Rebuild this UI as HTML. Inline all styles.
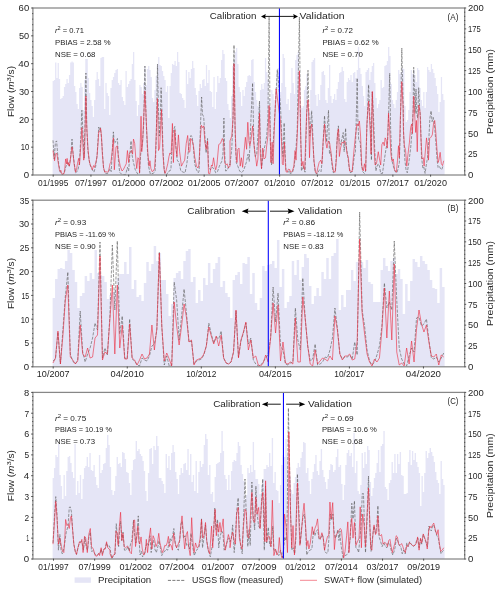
<!DOCTYPE html>
<html><head><meta charset="utf-8"><title>Flow calibration and validation</title>
<style>html,body{margin:0;padding:0;background:#fff;}svg{display:block;}text{font-family:"Liberation Sans",sans-serif;fill:#262626;}</style>
</head><body>
<svg width="500" height="590" viewBox="0 0 500 590">
<rect width="500" height="590" fill="#fff"/>
<g style="will-change:transform">
<path d="M52.6 175L52.6 81L53.86 81L53.86 80L55.11 80L55.11 62.4L56.37 62.4L56.37 78L57.63 78L57.63 63L58.88 63L58.88 79L60.14 79L60.14 99L61.39 99L61.39 98L62.65 98L62.65 96L63.91 96L63.91 87L65.16 87L65.16 84L66.42 84L66.42 79L67.68 79L67.68 83L68.93 83L68.93 75L70.19 75L70.19 62.4L71.45 62.4L71.45 61.6L72.7 61.6L72.7 62.4L73.96 62.4L73.96 86L75.22 86L75.22 92L76.47 92L76.47 104L77.73 104L77.73 109L78.98 109L78.98 88L80.24 88L80.24 83L81.5 83L81.5 87L82.75 87L82.75 110L84.01 110L84.01 80L85.27 80L85.27 59L86.52 59L86.52 59L87.78 59L87.78 78L89.04 78L89.04 93L90.29 93L90.29 100L91.55 100L91.55 106L92.81 106L92.81 117L94.06 117L94.06 100L95.32 100L95.32 80L96.57 80L96.57 72L97.83 72L97.83 79L99.09 79L99.09 86L100.34 86L100.34 58L101.6 58L101.6 57L102.86 57L102.86 57L104.11 57L104.11 109L105.37 109L105.37 83L106.63 83L106.63 93L107.88 93L107.88 96L109.14 96L109.14 115L110.39 115L110.39 88L111.65 88L111.65 80L112.91 80L112.91 77L114.16 77L114.16 73L115.42 73L115.42 70L116.68 70L116.68 69L117.93 69L117.93 83L119.19 83L119.19 85L120.45 85L120.45 80L121.7 80L121.7 97L122.96 97L122.96 101L124.22 101L124.22 105L125.47 105L125.47 71L126.73 71L126.73 87L127.98 87L127.98 84L129.24 84L129.24 81L130.5 81L130.5 79L131.75 79L131.75 64L133.01 64L133.01 52L134.27 52L134.27 80L135.52 80L135.52 101L136.78 101L136.78 116L138.04 116L138.04 105L139.29 105L139.29 85L140.55 85L140.55 87L141.81 87L141.81 94L143.06 94L143.06 83L144.32 83L144.32 66L145.57 66L145.57 85L146.83 85L146.83 69L148.09 69L148.09 66L149.34 66L149.34 70L150.6 70L150.6 77L151.86 77L151.86 98L153.11 98L153.11 102L154.37 102L154.37 90L155.63 90L155.63 76L156.88 76L156.88 64L158.14 64L158.14 57L159.39 57L159.39 65L160.65 65L160.65 66L161.91 66L161.91 71L163.16 71L163.16 76L164.42 76L164.42 80L165.68 80L165.68 92L166.93 92L166.93 86L168.19 86L168.19 118L169.45 118L169.45 86L170.7 86L170.7 73L171.96 73L171.96 64L173.22 64L173.22 65L174.47 65L174.47 61L175.73 61L175.73 66L176.98 66L176.98 52L178.24 52L178.24 62L179.5 62L179.5 93L180.75 93L180.75 94L182.01 94L182.01 98L183.27 98L183.27 100L184.52 100L184.52 108L185.78 108L185.78 70L187.04 70L187.04 84L188.29 84L188.29 72L189.55 72L189.55 78L190.81 78L190.81 69L192.06 69L192.06 61L193.32 61L193.32 68L194.57 68L194.57 88L195.83 88L195.83 95L197.09 95L197.09 106L198.34 106L198.34 91L199.6 91L199.6 84L200.86 84L200.86 88L202.11 88L202.11 80L203.37 80L203.37 79L204.63 79L204.63 86L205.88 86L205.88 65L207.14 65L207.14 83L208.39 83L208.39 70L209.65 70L209.65 91L210.91 91L210.91 92L212.16 92L212.16 107L213.42 107L213.42 77L214.68 77L214.68 109L215.93 109L215.93 92L217.19 92L217.19 76L218.45 76L218.45 83L219.7 83L219.7 78L220.96 78L220.96 60L222.22 60L222.22 50L223.47 50L223.47 54L224.73 54L224.73 78L225.98 78L225.98 81L227.24 81L227.24 104L228.5 104L228.5 110L229.75 110L229.75 118L231.01 118L231.01 96L232.27 96L232.27 66L233.52 66L233.52 60L234.78 60L234.78 52L236.04 52L236.04 48L237.29 48L237.29 64L238.55 64L238.55 87L239.81 87L239.81 92L241.06 92L241.06 106L242.32 106L242.32 90L243.57 90L243.57 96L244.83 96L244.83 87L246.09 87L246.09 82L247.34 82L247.34 76L248.6 76L248.6 75L249.86 75L249.86 76L251.11 76L251.11 60L252.37 60L252.37 59L253.63 59L253.63 82L254.88 82L254.88 92L256.14 92L256.14 100L257.39 100L257.39 106L258.65 106L258.65 101L259.91 101L259.91 90L261.16 90L261.16 84L262.42 84L262.42 89L263.68 89L263.68 83L264.93 83L264.93 58L266.19 58L266.19 72L267.45 72L267.45 80L268.7 80L268.7 98L269.96 98L269.96 106L271.22 106L271.22 90L272.47 90L272.47 94L273.73 94L273.73 100L274.98 100L274.98 88L276.24 88L276.24 70L277.5 70L277.5 68L278.75 68L278.75 72L280.01 72L280.01 92L281.27 92L281.27 83L282.52 83L282.52 54L283.78 54L283.78 58L285.04 58L285.04 87L286.29 87L286.29 104L287.55 104L287.55 99L288.81 99L288.81 110L290.06 110L290.06 93L291.32 93L291.32 68L292.57 68L292.57 83L293.83 83L293.83 94L295.09 94L295.09 60L296.34 60L296.34 55L297.6 55L297.6 52L298.86 52L298.86 73L300.11 73L300.11 106L301.37 106L301.37 108L302.63 108L302.63 106L303.88 106L303.88 90L305.14 90L305.14 86L306.39 86L306.39 74L307.65 74L307.65 100L308.91 100L308.91 111L310.16 111L310.16 90L311.42 90L311.42 62L312.68 62L312.68 60L313.93 60L313.93 58L315.19 58L315.19 95L316.45 95L316.45 106L317.7 106L317.7 94L318.96 94L318.96 100L320.22 100L320.22 85L321.47 85L321.47 72L322.73 72L322.73 71L323.98 71L323.98 75L325.24 75L325.24 100L326.5 100L326.5 103L327.75 103L327.75 88L329.01 88L329.01 65L330.27 65L330.27 96L331.52 96L331.52 103L332.78 103L332.78 99L334.04 99L334.04 94L335.29 94L335.29 100L336.55 100L336.55 89L337.81 89L337.81 82L339.06 82L339.06 73L340.32 73L340.32 72L341.57 72L341.57 67L342.83 67L342.83 71L344.09 71L344.09 99L345.34 99L345.34 102L346.6 102L346.6 82L347.86 82L347.86 78L349.11 78L349.11 80L350.37 80L350.37 75L351.63 75L351.63 82L352.88 82L352.88 73L354.14 73L354.14 72L355.39 72L355.39 78L356.65 78L356.65 70L357.91 70L357.91 47L359.16 47L359.16 68L360.42 68L360.42 74L361.68 74L361.68 86L362.93 86L362.93 96L364.19 96L364.19 106L365.45 106L365.45 72L366.7 72L366.7 70L367.96 70L367.96 68L369.22 68L369.22 80L370.47 80L370.47 72L371.73 72L371.73 66L372.98 66L372.98 63L374.24 63L374.24 83L375.5 83L375.5 98L376.75 98L376.75 108L378.01 108L378.01 104L379.27 104L379.27 100L380.52 100L380.52 80L381.78 80L381.78 88L383.04 88L383.04 87L384.29 87L384.29 66L385.55 66L385.55 65L386.81 65L386.81 61L388.06 61L388.06 47L389.32 47L389.32 56L390.57 56L390.57 84L391.83 84L391.83 100L393.09 100L393.09 104L394.34 104L394.34 108L395.6 108L395.6 100L396.86 100L396.86 92L398.11 92L398.11 70L399.37 70L399.37 74L400.63 74L400.63 72L401.88 72L401.88 68L403.14 68L403.14 69L404.39 69L404.39 106L405.65 106L405.65 122L406.91 122L406.91 120L408.16 120L408.16 110L409.42 110L409.42 92L410.68 92L410.68 70L411.93 70L411.93 74L413.19 74L413.19 70L414.45 70L414.45 75L415.7 75L415.7 82L416.96 82L416.96 68L418.22 68L418.22 70L419.47 70L419.47 88L420.73 88L420.73 100L421.98 100L421.98 106L423.24 106L423.24 92L424.5 92L424.5 108L425.75 108L425.75 92L427.01 92L427.01 67L428.27 67L428.27 70L429.52 70L429.52 72L430.78 72L430.78 64L432.04 64L432.04 69L433.29 69L433.29 73L434.55 73L434.55 78L435.81 78L435.81 86L437.06 86L437.06 94L438.32 94L438.32 112L439.57 112L439.57 102L440.83 102L440.83 77L442.09 77L442.09 94L443.34 94L443.34 100L444.6 100L444.6 175Z" fill="#e5e5f6" stroke="none"/>
<path d="M53.01 140.3L54.21 158.95L55.42 142.1L56.62 140.9L57.46 151.73L58.66 163.76L60.23 172.19L62.03 174.59L64.2 173.39L65.64 167.37L67.45 162.56L69.25 166.17L70.7 156.54L72.02 139.09L73.1 154.13L75.51 172.79L77.68 170.98L79.48 162.56L80.81 136.08L81.89 110.21L83.09 136.08L84.06 157.74L84.9 130.07L85.9 73L86.82 130.07L88.03 151.73L89.71 163.76L91.52 168.58L93.92 172.19L95.73 166.17L97.17 154.13L98.74 127.06L99.58 130.07L100.54 127.66L101.74 142.1L103.55 168.58L105.35 173.39L107.76 173.39L109.57 169.78L110 168.58L111.2 171.58L112.17 154.13L113.37 131.87L114.33 143.3L115.42 142.1L116.62 139.69L117.46 138.49L118.42 160.15L119.63 172.19L122.03 174.59L125.64 174.59L127.45 167.37L128.65 170.98L129.86 154.13L131.06 140.9L131.9 154.13L133.47 162.56L135.27 169.78L137.68 173.99L139.48 173.39L140.69 154.13L142.49 142.1L143.69 124.05L144.9 66.1L146.1 118.03L147.3 148.12L148.51 166.17L150.31 173.99L153.32 173.39L155.13 170.98L156.33 136.08L157.5 64.3L158.5 112.02L159.34 136.08L160.3 118.03L161.1 87.7L161.99 112.02L162.95 148.12L163.91 166.17L164.75 173.39L166.56 174.59L168.97 170.98L170 170.98L170.96 168.58L172.17 142.1L173.37 130.07L174.81 126.46L176.02 148.12L177.22 160.15L179.03 162.56L180.83 170.98L183.24 172.19L185.04 172.79L186.85 163.76L188.65 148.12L189.86 138.49L191.06 135.48L192.26 137.29L193.47 148.12L194.67 163.76L196.47 169.78L198.28 172.79L199.12 170.98L200.32 130.07L201.6 97L202.49 114.42L203.69 116.83L204.9 136.08L206.1 152.93L207.55 138.49L208.51 166.17L210.31 169.78L212.12 167.37L213.92 168.58L215.73 172.79L217.53 171.58L219.34 166.17L221.74 161.35L222.95 154.13L223.91 118.03L224.75 154.13L225.6 170.98L227.16 170.38L228.97 166.17L230.05 163.76L230 164.97L231.81 148.12L233.01 118.03L234 45L235.05 130.07L236.26 162.56L237.82 166.17L239.63 170.98L241.43 172.79L242.64 171.58L243.84 169.78L246.25 162.56L248.05 154.13L249.25 161.35L250.46 130.07L252.6 83L253.83 142.1L255.27 156.54L256.71 154.13L258.28 130.07L259.5 101L260.32 142.1L261.53 168.58L263.09 154.13L264.9 145.71L266.7 136.08L267.91 118.03L269.1 17L270.31 142.1L271.52 164.97L272.72 154.13L273.92 130.07L277.4 69.7L280.5 106L281.99 142.1L282.95 156.54L284.15 122.85L285.11 154.13L285.96 169.78L287.76 172.19L290.05 170.98L290 173.39L292.41 172.79L294.21 166.17L296.02 148.12L297.22 130.07L299.4 17L300.59 130.07L301.43 170.98L303.24 166.17L305.04 172.19L306.25 130.07L308 70.3L309.01 118.03L309.86 136.08L310.7 124.05L311.66 110.81L312.62 130.07L313.83 160.15L315.27 172.79L317.08 173.99L319.48 169.78L321.05 171.58L322.25 160.15L323.45 136.08L324.54 115.63L325.5 130.07L326.7 142.1L327.55 124.05L328.51 110.21L329.47 154.13L330.67 151.73L332.12 166.17L333.32 172.79L335.49 170.98L336.93 142.1L338.38 125.86L339.34 142.1L340.54 144.51L341.99 138.49L343.19 132.47L344.15 151.73L345.6 128.26L346.56 148.12L347.76 156.54L348.97 166.17L350.05 171.58L350 172.79L352.41 171.58L354.21 156.54L355.42 151.73L356.26 118.03L357.2 78.1L357.82 118.03L358.66 139.69L360.23 142.1L361.43 163.76L362.64 171.58L364.44 173.39L365.64 170.98L366.85 130.07L368.6 84.7L369.86 118.03L370.7 130.07L371.42 160.15L371.9 118.03L372.3 92L373.47 115.63L374.67 148.12L375.87 170.98L377.08 166.17L378.28 163.76L379.48 166.17L380.69 173.39L382.49 173.39L384.3 160.15L386.1 148.12L387.55 142.1L388.51 118.03L389.7 73.3L390.67 130.07L391.88 160.15L393.32 166.17L395.13 171.58L396.93 172.79L398.13 168.58L399.34 162.56L400.3 130.07L401.8 48L403.2 106L403.66 136.08L404.87 160.15L406.07 169.78L407.27 172.79L408.84 162.56L410.64 148.12L411.85 133.68L413.05 112.02L413.7 67.3L415.22 113.22L416 89L416.66 113.22L417.62 118.03L418.7 87.7L419.67 108.41L420.51 118.03L421.47 156.54L422.92 168.58L423.88 167.37L425.08 173.39L426.29 164.97L427.49 157.74L428.69 142.1L429.9 118.03L431.1 110.81L432.06 121.64L433.27 117.43L434.47 125.25L435.67 139.69L437.12 160.15L438.08 167.37L439.28 166.17L440.49 168.58L441.69 169.78L442.89 166.17" fill="none" stroke="#5a5a5a" stroke-width="0.7" stroke-linejoin="round" stroke-dasharray="3.1 1.33" opacity="0.88"/>
<path d="M53.01 150.52L54.57 160.75L55.78 153.53L56.86 153.53L58.18 162.56L59.39 169.78L60.23 171.58L60.83 170.38L62.03 174.35L63.84 173.99L64.68 169.78L65.64 158.95L66.61 163.76L67.09 158.35L68.05 164.97L68.65 162.56L69.25 166.17L69.86 163.76L71.06 154.13L72.02 146.91L72.86 151.73L74.07 163.76L75.51 172.19L76.47 169.78L77.44 163.76L78.64 158.35L79.48 164.97L81.05 142.1L81.89 127.66L82.73 142.1L83.69 160.15L84.42 156.54L85.14 130.07L85.9 96L86.7 124.05L87.91 148.12L89.11 160.15L90.31 164.97L91.52 167.37L92.36 169.78L93.56 165.57L94.52 167.37L95.73 162.56L96.93 157.74L98.13 142.1L98.74 131.87L99.58 131.87L100.54 128.26L101.5 136.08L102.35 154.13L103.55 167.37L104.75 172.19L105.96 171.58L107.16 172.19L108.36 171.58L109.57 166.17L110 163.76L110.96 161.96L112.17 151.73L113.37 137.89L114.33 169.78L116.02 146.91L117.22 145.71L118.42 156.54L120.23 166.17L122.03 170.98L123.24 169.78L125.04 166.17L126.25 163.76L127.45 150.52L128.65 162.56L129.25 154.13L130.46 151.73L131.66 150.52L132.62 154.13L133.47 139.09L134.67 143.3L135.87 158.95L136.71 168.58L137.92 157.74L138.88 158.95L139.6 172.79L140.32 142.1L141.05 116.23L141.77 151.73L142.73 140.9L143.69 118.03L144.9 90.8L145.86 112.02L146.7 130.07L147.91 154.13L149.11 166.17L149.95 160.75L150.91 168.58L152.12 171.58L153.32 170.98L154.52 168.58L155.49 154.13L156.33 130.07L157.4 98.6L157.89 118.03L158.5 150.52L159.58 148.12L160.54 130.07L161.5 109.61L162.11 130.07L162.95 154.13L164.15 169.78L165.11 173.39L165.96 170.98L167.76 163.76L168.97 156.54L170.05 152.93L170 154.13L171.2 152.93L172.41 123.45L173.37 162.56L174.81 130.07L175.78 145.71L176.98 156.54L178.42 134.88L179.63 151.73L181.43 166.17L183.24 162.56L184.68 160.15L186.25 143.3L187.69 135.48L188.89 152.33L189.86 151.73L190.7 138.49L192.26 140.9L193.47 145.71L194.67 156.54L196.47 166.17L197.92 167.97L198.88 164.97L200.08 142.1L201.29 125.25L202.49 127.66L203.69 125.86L204.9 142.1L206.1 149.32L207.55 140.9L208.51 173.39L209.71 173.99L211.52 164.97L212.36 166.17L213.56 157.74L214.77 166.17L215.73 169.78L216.93 164.97L218.74 144.51L220.54 143.3L222.35 138.49L223.55 140.9L224.75 162.56L225.96 164.97L227.16 163.76L228.36 167.97L230.05 166.17L230 140.9L231.81 136.08L233.01 118.03L234 63.7L235.05 124.05L236.02 154.13L236.98 162.56L237.82 149.32L239.03 148.12L240.23 166.17L241.43 157.74L242.64 167.37L243.84 154.13L245.4 137.29L246.61 149.32L247.81 122.25L249.01 142.1L249.86 145.71L251.06 139.69L252.62 125.86L253.47 138.49L254.67 151.73L255.87 158.95L256.71 166.17L257.92 158.95L259.48 113.22L260.32 154.13L261.53 168.58L262.73 148.12L263.94 158.95L265.5 157.74L266.7 145.71L267.91 136.08L269.1 105.5L270.07 130.07L270.91 162.56L272.12 142.1L273.08 163.76L274.28 130.07L276.2 89L277.6 100L280.54 121.64L281.5 142.1L282.35 163.76L283.19 164.97L284.39 142.1L285.35 163.76L285.96 171.58L287.16 172.19L288.36 169.18L290.05 169.78L290 170.98L291.2 172.19L292.41 170.98L293.85 166.17L295.05 150.52L296.02 160.15L296.98 142.1L298.18 112.02L299.4 70.9L300.83 142.1L301.79 166.17L303 161.35L303.84 168.58L304.68 169.78L305.64 142.1L306.61 113.22L308 99.8L308.65 113.22L309.49 157.74L310.46 130.07L311.66 124.05L312.86 142.1L314.07 161.35L315.51 172.19L316.71 173.39L317.92 167.37L319.12 162.56L320.69 160.15L321.89 163.76L323.09 142.1L324.54 124.05L325.74 142.1L326.94 148.12L328.27 140.9L329.71 143.3L330.91 151.73L332.12 162.56L333.56 171.58L335.13 172.19L336.33 160.15L337.53 132.47L338.5 128.86L339.34 156.54L340.54 148.12L341.99 142.1L343.55 143.3L344.75 140.9L345.96 145.71L347.16 154.13L348.36 157.74L349.57 170.98L350 170.98L352.17 171.58L353.61 154.13L355.42 136.08L356.98 124.05L358.18 125.86L359.39 121.04L360.59 136.08L361.79 166.17L363.24 170.98L364.44 163.76L365.64 170.98L366.85 124.05L368.6 101L369.86 124.05L370.46 136.08L371.06 154.13L371.66 118.03L372.3 91.4L373.1 118.03L374.07 148.12L375.03 164.97L376.47 163.76L378.28 151.73L379.48 158.95L380.69 164.97L381.89 144.51L383.09 142.1L384.3 145.71L385.14 137.89L386.1 139.69L387.3 148.12L388.51 113.22L389.71 130.07L390.91 154.13L392.12 161.35L393.32 158.95L394.52 169.78L396.33 172.19L397.53 160.15L398.5 145.71L399.34 157.74L400.3 118.03L401.8 81.7L403 106L403.42 130.07L404.39 145.71L405.59 150.52L406.79 166.17L408 154.13L409.44 142.1L410.64 127.66L411.61 124.05L412.45 133.68L413.29 108.41L413.8 96.2L414.86 118.03L415.7 132.47L416.42 120.44L417.26 151.73L418.1 118.03L418.8 105L420.03 112.02L420.87 136.08L422.08 158.95L423.28 157.74L424.12 166.17L425.08 154.13L426.53 137.89L427.49 145.71L428.45 160.15L429.66 138.49L430.86 137.29L432.3 134.88L433.51 124.05L434.71 120.44L435.67 130.07L436.88 148.12L438.08 162.56L438.92 160.15L440.13 152.33L441.33 163.76L442.53 165.57L443.74 160.75" fill="none" stroke="#eb283c" stroke-width="0.8" stroke-linejoin="round" opacity="0.75"/>
<line x1="279.45" y1="8" x2="279.45" y2="175" stroke="#0505ff" stroke-width="1.08"/>
<rect x="32.9" y="8" width="431.8" height="167" fill="none" stroke="#878787" stroke-width="1.25"/>
<line x1="31.1" y1="175" x2="33.2" y2="175" stroke="#333" stroke-width="0.8"/>
<text x="29.2" y="178.3" font-size="8.5" text-anchor="end" textLength="5.38" lengthAdjust="spacingAndGlyphs">0</text>
<line x1="32.15" y1="169.43" x2="33.2" y2="169.43" stroke="#333" stroke-width="0.8"/>
<line x1="32.15" y1="163.87" x2="33.2" y2="163.87" stroke="#333" stroke-width="0.8"/>
<line x1="32.15" y1="158.3" x2="33.2" y2="158.3" stroke="#333" stroke-width="0.8"/>
<line x1="32.15" y1="152.73" x2="33.2" y2="152.73" stroke="#333" stroke-width="0.8"/>
<line x1="31.1" y1="147.17" x2="33.2" y2="147.17" stroke="#333" stroke-width="0.8"/>
<text x="29.2" y="150.47" font-size="8.5" text-anchor="end" textLength="8.52" lengthAdjust="spacingAndGlyphs">10</text>
<line x1="32.15" y1="141.6" x2="33.2" y2="141.6" stroke="#333" stroke-width="0.8"/>
<line x1="32.15" y1="136.03" x2="33.2" y2="136.03" stroke="#333" stroke-width="0.8"/>
<line x1="32.15" y1="130.47" x2="33.2" y2="130.47" stroke="#333" stroke-width="0.8"/>
<line x1="32.15" y1="124.9" x2="33.2" y2="124.9" stroke="#333" stroke-width="0.8"/>
<line x1="31.1" y1="119.33" x2="33.2" y2="119.33" stroke="#333" stroke-width="0.8"/>
<text x="29.2" y="122.63" font-size="8.5" text-anchor="end" textLength="10.22" lengthAdjust="spacingAndGlyphs">20</text>
<line x1="32.15" y1="113.77" x2="33.2" y2="113.77" stroke="#333" stroke-width="0.8"/>
<line x1="32.15" y1="108.2" x2="33.2" y2="108.2" stroke="#333" stroke-width="0.8"/>
<line x1="32.15" y1="102.63" x2="33.2" y2="102.63" stroke="#333" stroke-width="0.8"/>
<line x1="32.15" y1="97.07" x2="33.2" y2="97.07" stroke="#333" stroke-width="0.8"/>
<line x1="31.1" y1="91.5" x2="33.2" y2="91.5" stroke="#333" stroke-width="0.8"/>
<text x="29.2" y="94.8" font-size="8.5" text-anchor="end" textLength="10.21" lengthAdjust="spacingAndGlyphs">30</text>
<line x1="32.15" y1="85.93" x2="33.2" y2="85.93" stroke="#333" stroke-width="0.8"/>
<line x1="32.15" y1="80.37" x2="33.2" y2="80.37" stroke="#333" stroke-width="0.8"/>
<line x1="32.15" y1="74.8" x2="33.2" y2="74.8" stroke="#333" stroke-width="0.8"/>
<line x1="32.15" y1="69.23" x2="33.2" y2="69.23" stroke="#333" stroke-width="0.8"/>
<line x1="31.1" y1="63.67" x2="33.2" y2="63.67" stroke="#333" stroke-width="0.8"/>
<text x="29.2" y="66.97" font-size="8.5" text-anchor="end" textLength="10.98" lengthAdjust="spacingAndGlyphs">40</text>
<line x1="32.15" y1="58.1" x2="33.2" y2="58.1" stroke="#333" stroke-width="0.8"/>
<line x1="32.15" y1="52.53" x2="33.2" y2="52.53" stroke="#333" stroke-width="0.8"/>
<line x1="32.15" y1="46.97" x2="33.2" y2="46.97" stroke="#333" stroke-width="0.8"/>
<line x1="32.15" y1="41.4" x2="33.2" y2="41.4" stroke="#333" stroke-width="0.8"/>
<line x1="31.1" y1="35.83" x2="33.2" y2="35.83" stroke="#333" stroke-width="0.8"/>
<text x="29.2" y="39.13" font-size="8.5" text-anchor="end" textLength="10.22" lengthAdjust="spacingAndGlyphs">50</text>
<line x1="32.15" y1="30.27" x2="33.2" y2="30.27" stroke="#333" stroke-width="0.8"/>
<line x1="32.15" y1="24.7" x2="33.2" y2="24.7" stroke="#333" stroke-width="0.8"/>
<line x1="32.15" y1="19.13" x2="33.2" y2="19.13" stroke="#333" stroke-width="0.8"/>
<line x1="32.15" y1="13.57" x2="33.2" y2="13.57" stroke="#333" stroke-width="0.8"/>
<line x1="31.1" y1="8" x2="33.2" y2="8" stroke="#333" stroke-width="0.8"/>
<text x="29.2" y="11.3" font-size="8.5" text-anchor="end" textLength="10.58" lengthAdjust="spacingAndGlyphs">60</text>
<line x1="464.4" y1="175" x2="466.2" y2="175" stroke="#333" stroke-width="0.8"/>
<text x="468.1" y="178.3" font-size="8.5" text-anchor="start" textLength="5.38" lengthAdjust="spacingAndGlyphs">0</text>
<line x1="464.2" y1="170.82" x2="465.25" y2="170.82" stroke="#333" stroke-width="0.8"/>
<line x1="464.2" y1="166.65" x2="465.25" y2="166.65" stroke="#333" stroke-width="0.8"/>
<line x1="464.2" y1="162.47" x2="465.25" y2="162.47" stroke="#333" stroke-width="0.8"/>
<line x1="464.2" y1="158.3" x2="465.25" y2="158.3" stroke="#333" stroke-width="0.8"/>
<line x1="464.4" y1="154.12" x2="466.2" y2="154.12" stroke="#333" stroke-width="0.8"/>
<text x="468.1" y="157.43" font-size="8.5" text-anchor="start" textLength="9.48" lengthAdjust="spacingAndGlyphs">25</text>
<line x1="464.2" y1="149.95" x2="465.25" y2="149.95" stroke="#333" stroke-width="0.8"/>
<line x1="464.2" y1="145.78" x2="465.25" y2="145.78" stroke="#333" stroke-width="0.8"/>
<line x1="464.2" y1="141.6" x2="465.25" y2="141.6" stroke="#333" stroke-width="0.8"/>
<line x1="464.2" y1="137.43" x2="465.25" y2="137.43" stroke="#333" stroke-width="0.8"/>
<line x1="464.4" y1="133.25" x2="466.2" y2="133.25" stroke="#333" stroke-width="0.8"/>
<text x="468.1" y="136.55" font-size="8.5" text-anchor="start" textLength="10.22" lengthAdjust="spacingAndGlyphs">50</text>
<line x1="464.2" y1="129.07" x2="465.25" y2="129.07" stroke="#333" stroke-width="0.8"/>
<line x1="464.2" y1="124.9" x2="465.25" y2="124.9" stroke="#333" stroke-width="0.8"/>
<line x1="464.2" y1="120.72" x2="465.25" y2="120.72" stroke="#333" stroke-width="0.8"/>
<line x1="464.2" y1="116.55" x2="465.25" y2="116.55" stroke="#333" stroke-width="0.8"/>
<line x1="464.4" y1="112.38" x2="466.2" y2="112.38" stroke="#333" stroke-width="0.8"/>
<text x="468.1" y="115.67" font-size="8.5" text-anchor="start" textLength="9.54" lengthAdjust="spacingAndGlyphs">75</text>
<line x1="464.2" y1="108.2" x2="465.25" y2="108.2" stroke="#333" stroke-width="0.8"/>
<line x1="464.2" y1="104.03" x2="465.25" y2="104.03" stroke="#333" stroke-width="0.8"/>
<line x1="464.2" y1="99.85" x2="465.25" y2="99.85" stroke="#333" stroke-width="0.8"/>
<line x1="464.2" y1="95.67" x2="465.25" y2="95.67" stroke="#333" stroke-width="0.8"/>
<line x1="464.4" y1="91.5" x2="466.2" y2="91.5" stroke="#333" stroke-width="0.8"/>
<text x="468.1" y="94.8" font-size="8.5" text-anchor="start" textLength="14.1" lengthAdjust="spacingAndGlyphs">100</text>
<line x1="464.2" y1="87.33" x2="465.25" y2="87.33" stroke="#333" stroke-width="0.8"/>
<line x1="464.2" y1="83.15" x2="465.25" y2="83.15" stroke="#333" stroke-width="0.8"/>
<line x1="464.2" y1="78.97" x2="465.25" y2="78.97" stroke="#333" stroke-width="0.8"/>
<line x1="464.2" y1="74.8" x2="465.25" y2="74.8" stroke="#333" stroke-width="0.8"/>
<line x1="464.4" y1="70.62" x2="466.2" y2="70.62" stroke="#333" stroke-width="0.8"/>
<text x="468.1" y="73.92" font-size="8.5" text-anchor="start" textLength="12.62" lengthAdjust="spacingAndGlyphs">125</text>
<line x1="464.2" y1="66.45" x2="465.25" y2="66.45" stroke="#333" stroke-width="0.8"/>
<line x1="464.2" y1="62.28" x2="465.25" y2="62.28" stroke="#333" stroke-width="0.8"/>
<line x1="464.2" y1="58.1" x2="465.25" y2="58.1" stroke="#333" stroke-width="0.8"/>
<line x1="464.2" y1="53.92" x2="465.25" y2="53.92" stroke="#333" stroke-width="0.8"/>
<line x1="464.4" y1="49.75" x2="466.2" y2="49.75" stroke="#333" stroke-width="0.8"/>
<text x="468.1" y="53.05" font-size="8.5" text-anchor="start" textLength="13.36" lengthAdjust="spacingAndGlyphs">150</text>
<line x1="464.2" y1="45.57" x2="465.25" y2="45.57" stroke="#333" stroke-width="0.8"/>
<line x1="464.2" y1="41.4" x2="465.25" y2="41.4" stroke="#333" stroke-width="0.8"/>
<line x1="464.2" y1="37.22" x2="465.25" y2="37.22" stroke="#333" stroke-width="0.8"/>
<line x1="464.2" y1="33.05" x2="465.25" y2="33.05" stroke="#333" stroke-width="0.8"/>
<line x1="464.4" y1="28.88" x2="466.2" y2="28.88" stroke="#333" stroke-width="0.8"/>
<text x="468.1" y="32.17" font-size="8.5" text-anchor="start" textLength="12.68" lengthAdjust="spacingAndGlyphs">175</text>
<line x1="464.2" y1="24.7" x2="465.25" y2="24.7" stroke="#333" stroke-width="0.8"/>
<line x1="464.2" y1="20.53" x2="465.25" y2="20.53" stroke="#333" stroke-width="0.8"/>
<line x1="464.2" y1="16.35" x2="465.25" y2="16.35" stroke="#333" stroke-width="0.8"/>
<line x1="464.2" y1="12.18" x2="465.25" y2="12.18" stroke="#333" stroke-width="0.8"/>
<line x1="464.4" y1="8" x2="466.2" y2="8" stroke="#333" stroke-width="0.8"/>
<text x="468.1" y="11.3" font-size="8.5" text-anchor="start" textLength="15.8" lengthAdjust="spacingAndGlyphs">200</text>
<line x1="53.2" y1="174.7" x2="53.2" y2="176.7" stroke="#333" stroke-width="0.8"/>
<text x="53.2" y="185.6" font-size="8.5" text-anchor="middle" textLength="30.2" lengthAdjust="spacingAndGlyphs">01/1995</text>
<line x1="90.94" y1="174.7" x2="90.94" y2="176.7" stroke="#333" stroke-width="0.8"/>
<text x="90.94" y="185.6" font-size="8.5" text-anchor="middle" textLength="32.02" lengthAdjust="spacingAndGlyphs">07/1997</text>
<line x1="128.68" y1="174.7" x2="128.68" y2="176.7" stroke="#333" stroke-width="0.8"/>
<text x="128.68" y="185.6" font-size="8.5" text-anchor="middle" textLength="33.4" lengthAdjust="spacingAndGlyphs">01/2000</text>
<line x1="166.42" y1="174.7" x2="166.42" y2="176.7" stroke="#333" stroke-width="0.8"/>
<text x="166.42" y="185.6" font-size="8.5" text-anchor="middle" textLength="34.42" lengthAdjust="spacingAndGlyphs">07/2002</text>
<line x1="204.16" y1="174.7" x2="204.16" y2="176.7" stroke="#333" stroke-width="0.8"/>
<text x="204.16" y="185.6" font-size="8.5" text-anchor="middle" textLength="32.66" lengthAdjust="spacingAndGlyphs">01/2005</text>
<line x1="241.9" y1="174.7" x2="241.9" y2="176.7" stroke="#333" stroke-width="0.8"/>
<text x="241.9" y="185.6" font-size="8.5" text-anchor="middle" textLength="34.48" lengthAdjust="spacingAndGlyphs">07/2007</text>
<line x1="279.64" y1="174.7" x2="279.64" y2="176.7" stroke="#333" stroke-width="0.8"/>
<text x="279.64" y="185.6" font-size="8.5" text-anchor="middle" textLength="30.96" lengthAdjust="spacingAndGlyphs">01/2010</text>
<line x1="317.38" y1="174.7" x2="317.38" y2="176.7" stroke="#333" stroke-width="0.8"/>
<text x="317.38" y="185.6" font-size="8.5" text-anchor="middle" textLength="31.98" lengthAdjust="spacingAndGlyphs">07/2012</text>
<line x1="355.12" y1="174.7" x2="355.12" y2="176.7" stroke="#333" stroke-width="0.8"/>
<text x="355.12" y="185.6" font-size="8.5" text-anchor="middle" textLength="30.22" lengthAdjust="spacingAndGlyphs">01/2015</text>
<line x1="392.86" y1="174.7" x2="392.86" y2="176.7" stroke="#333" stroke-width="0.8"/>
<text x="392.86" y="185.6" font-size="8.5" text-anchor="middle" textLength="32.04" lengthAdjust="spacingAndGlyphs">07/2017</text>
<line x1="430.6" y1="174.7" x2="430.6" y2="176.7" stroke="#333" stroke-width="0.8"/>
<text x="430.6" y="185.6" font-size="8.5" text-anchor="middle" textLength="32.66" lengthAdjust="spacingAndGlyphs">01/2020</text>
<g transform="translate(14.0 91.5) rotate(-90)"><text x="0" y="0" font-size="8.2" text-anchor="middle" textLength="51" lengthAdjust="spacingAndGlyphs">Flow (<tspan font-style="italic">m</tspan><tspan font-size="6.2" dy="-3.1">3</tspan><tspan dy="3.1">/s)</tspan></text></g>
<g transform="translate(492.6 91.5) rotate(-90)"><text x="0" y="0" font-size="8.4" text-anchor="middle" textLength="84.8" lengthAdjust="spacingAndGlyphs">Precipitation (mm)</text></g>
<text x="209.8" y="19.4" font-size="8.6" text-anchor="start" textLength="46.6" lengthAdjust="spacingAndGlyphs">Calibration</text>
<text x="299.6" y="19.4" font-size="8.6" text-anchor="start" textLength="45" lengthAdjust="spacingAndGlyphs">Validation</text>
<text x="55" y="32.95" font-size="8" text-anchor="start" textLength="29" lengthAdjust="spacingAndGlyphs"><tspan font-style="italic">r</tspan><tspan font-size="5.9" dy="-3.1">2</tspan><tspan dy="3.1"> = 0.71</tspan></text>
<text x="55" y="44.75" font-size="8" text-anchor="start" textLength="55.6" lengthAdjust="spacingAndGlyphs">PBIAS = 2.58 %</text>
<text x="55" y="56.75" font-size="8" text-anchor="start" textLength="40.4" lengthAdjust="spacingAndGlyphs">NSE = 0.68</text>
<text x="322.4" y="32.95" font-size="8" text-anchor="start" textLength="30.6" lengthAdjust="spacingAndGlyphs"><tspan font-style="italic">r</tspan><tspan font-size="5.9" dy="-3.1">2</tspan><tspan dy="3.1"> = 0.72</tspan></text>
<text x="322.4" y="44.75" font-size="8" text-anchor="start" textLength="56.2" lengthAdjust="spacingAndGlyphs">PBIAS = 0.62 %</text>
<text x="322.4" y="56.75" font-size="8" text-anchor="start" textLength="40.6" lengthAdjust="spacingAndGlyphs">NSE = 0.70</text>
<text x="447.6" y="19.6" font-size="8.7" text-anchor="start" textLength="10.8" lengthAdjust="spacingAndGlyphs">(A)</text>
<line x1="264.36" y1="16.4" x2="279.5" y2="16.4" stroke="#000" stroke-width="0.9"/>
<path d="M261 16.4L265.8 13.9L265.08 16.4L265.8 18.9Z" fill="#000"/>
<line x1="294.64" y1="16.4" x2="279.5" y2="16.4" stroke="#000" stroke-width="0.9"/>
<path d="M298 16.4L293.2 13.9L293.92 16.4L293.2 18.9Z" fill="#000"/>
<path d="M52.6 366.8L52.6 298L55.07 298L55.07 279L57.53 279L57.53 269L60 269L60 268L62.46 268L62.46 269L64.93 269L64.93 261L67.39 261L67.39 250L69.86 250L69.86 253L72.32 253L72.32 270L74.79 270L74.79 282L77.25 282L77.25 308L79.72 308L79.72 296L82.18 296L82.18 293L84.65 293L84.65 276L87.12 276L87.12 281L89.58 281L89.58 273L92.05 273L92.05 279L94.51 279L94.51 250L96.98 250L96.98 273L99.44 273L99.44 275L101.91 275L101.91 276L104.37 276L104.37 282L106.84 282L106.84 299L109.3 299L109.3 295L111.77 295L111.77 292L114.24 292L114.24 289L116.7 289L116.7 278L119.17 278L119.17 274L121.63 274L121.63 274L124.1 274L124.1 262L126.56 262L126.56 274L129.03 274L129.03 247L131.49 247L131.49 289L133.96 289L133.96 280L136.42 280L136.42 297L138.89 297L138.89 295L141.35 295L141.35 301L143.82 301L143.82 283L146.29 283L146.29 262L148.75 262L148.75 271L151.22 271L151.22 264L153.68 264L153.68 246L156.15 246L156.15 261L158.61 261L158.61 253L161.08 253L161.08 280L163.54 280L163.54 280L166.01 280L166.01 294L168.47 294L168.47 316L170.94 316L170.94 304L173.41 304L173.41 278L175.87 278L175.87 273L178.34 273L178.34 271L180.8 271L180.8 279L183.27 279L183.27 261L185.73 261L185.73 251L188.2 251L188.2 249L190.66 249L190.66 282L193.13 282L193.13 277L195.59 277L195.59 303L198.06 303L198.06 290L200.52 290L200.52 301L202.99 301L202.99 278L205.46 278L205.46 285L207.92 285L207.92 263L210.39 263L210.39 283L212.85 283L212.85 269L215.32 269L215.32 263L217.78 263L217.78 257L220.25 257L220.25 287L222.71 287L222.71 281L225.18 281L225.18 293L227.64 293L227.64 297L230.11 297L230.11 318L232.57 318L232.57 280L235.04 280L235.04 275L237.51 275L237.51 272L239.97 272L239.97 284L242.44 284L242.44 263L244.9 263L244.9 264L247.37 264L247.37 257L249.83 257L249.83 294L252.3 294L252.3 273L254.76 273L254.76 303L257.23 303L257.23 310L259.69 310L259.69 298L262.16 298L262.16 266L264.63 266L264.63 271L267.09 271L267.09 265L269.56 265L269.56 264L272.02 264L272.02 261L274.49 261L274.49 268L276.95 268L276.95 240L279.42 240L279.42 287L281.88 287L281.88 269L284.35 269L284.35 308L286.81 308L286.81 302L289.28 302L289.28 296L291.74 296L291.74 261L294.21 261L294.21 275L296.68 275L296.68 260L299.14 260L299.14 280L301.61 280L301.61 267L304.07 267L304.07 254L306.54 254L306.54 258L309 258L309 286L311.47 286L311.47 304L313.93 304L313.93 296L316.4 296L316.4 288L318.86 288L318.86 296L321.33 296L321.33 272L323.79 272L323.79 279L326.26 279L326.26 258L328.73 258L328.73 279L331.19 279L331.19 256L333.66 256L333.66 253L336.12 253L336.12 239L338.59 239L338.59 310L341.05 310L341.05 295L343.52 295L343.52 307L345.98 307L345.98 290L348.45 290L348.45 290L350.91 290L350.91 270L353.38 270L353.38 281L355.85 281L355.85 262L358.31 262L358.31 260L360.78 260L360.78 262L363.24 262L363.24 268L365.71 268L365.71 260L368.17 260L368.17 282L370.64 282L370.64 284L373.1 284L373.1 302L375.57 302L375.57 302L378.03 302L378.03 302L380.5 302L380.5 270L382.96 270L382.96 258L385.43 258L385.43 266L387.9 266L387.9 271L390.36 271L390.36 261L392.83 261L392.83 258L395.29 258L395.29 274L397.76 274L397.76 269L400.22 269L400.22 279L402.69 279L402.69 314L405.15 314L405.15 284L407.62 284L407.62 301L410.08 301L410.08 281L412.55 281L412.55 259L415.02 259L415.02 262L417.48 262L417.48 267L419.95 267L419.95 256L422.41 256L422.41 261L424.88 261L424.88 264L427.34 264L427.34 270L429.81 270L429.81 280L432.27 280L432.27 288L434.74 288L434.74 289L437.2 289L437.2 303L439.67 303L439.67 268L442.13 268L442.13 287L444.6 287L444.6 366.8Z" fill="#e5e5f6" stroke="none"/>
<path d="M53 361L55.47 359L57.95 332L60.42 364L62.89 330L65.36 296L67.84 272L70.31 354L72.78 361L75.26 364L77.73 360L80.2 311L82.68 352L85.15 362L87.62 354L90.09 348L92.57 338L95.04 323L97.51 330L99.99 242L102.46 358L104.93 348L107.41 355L109.88 316L112.35 245L114.82 310L117.3 241L119.77 334L122.24 316L124.72 358L127.19 359L129.66 319L132.14 359L134.61 361L137.08 365L139.56 366L142.03 358L144.5 360L146.97 361L149.45 356L151.92 346L154.39 344L156.87 330L159.34 252L161.81 327L164.28 365L166.76 356L169.23 366L171.7 365L174.18 282L176.65 300L179.12 340L181.6 316L184.07 289L186.54 314L189.01 342L191.49 341L193.96 364L196.43 361L198.91 360L201.38 359L203.85 355L206.33 346L208.8 323L211.27 334L213.75 343L216.22 337L218.69 339L221.16 331L223.64 358L226.11 363L228.58 364L231.06 362L233.53 352L236 311L238.47 357L240.95 341L243.42 333L245.89 323L248.37 344L250.84 338L253.31 360L255.79 364L258.26 366L260.73 365L263.2 362L265.68 358L268.15 354L270.62 338L273.1 287L275.57 322L278.04 293L280.52 346L282.99 350L285.46 364L287.93 365L290.41 363L292.88 362L295.35 308L297.83 340L300.3 350L302.77 278L305.25 319L307.72 346L310.19 361L312.66 359L315.14 344L317.61 365L320.08 364L322.56 362L325.03 357L327.5 358L329.98 350L332.45 338L334.92 308L337.39 328L339.87 354L342.34 359L344.81 357L347.29 357L349.76 355L352.23 359L354.71 342L357.18 355L359.65 212L362.12 310L364.6 326L367.07 350L369.54 361L372.02 365L374.49 362L376.96 355L379.44 346L381.91 326L384.38 283L386.85 308L389.33 302L391.8 310L394.27 241L396.75 300L399.22 348L401.69 359L404.17 364L406.64 366L409.11 356L411.58 348L414.06 352L416.53 318L419 317L421.48 326L423.95 324L426.42 319L428.9 340L431.37 358L433.84 359L436.31 357L438.79 362L441.26 358L443.73 353" fill="none" stroke="#5a5a5a" stroke-width="0.7" stroke-linejoin="round" stroke-dasharray="3.1 1.33" opacity="0.88"/>
<path d="M53 363L55.47 358L57.95 331L60.42 364L62.89 336L65.36 300L67.84 285L70.31 357L72.78 360L75.26 364L77.73 361L80.2 325L82.68 354L85.15 357L87.62 348L90.09 358L92.57 357L95.04 338L97.51 335L99.99 256L102.46 360L104.93 352L107.41 354L109.88 320L112.35 285L114.82 354L117.3 285L119.77 348L122.24 325L124.72 359L127.19 359L129.66 324L132.14 358L134.61 360L137.08 365L139.56 360L142.03 354L144.5 359L146.97 358L149.45 354L151.92 325L154.39 350L156.87 328L159.34 253L161.81 326L164.28 361L166.76 353L169.23 359L171.7 366L174.18 302L176.65 326L179.12 345L181.6 326L184.07 304L186.54 318L189.01 342L191.49 340L193.96 365L196.43 360L198.91 359L201.38 358L203.85 354L206.33 346L208.8 327L211.27 336L213.75 344L216.22 336L218.69 346L221.16 335L223.64 358L226.11 363L228.58 364L231.06 362L233.53 352L236 310L238.47 358L240.95 340L243.42 332L245.89 322L248.37 350L250.84 340L253.31 358L255.79 356L258.26 365L260.73 366L263.2 363L265.68 355L268.15 362L270.62 338L273.1 303L275.57 333L278.04 305L280.52 361L282.99 342L285.46 363L287.93 364L290.41 362L292.88 364L295.35 318L297.83 362L300.3 362L302.77 297L305.25 319L307.72 346L310.19 364L312.66 366L315.14 350L317.61 364L320.08 361L322.56 358L325.03 359L327.5 361L329.98 356L332.45 360L334.92 316L337.39 330L339.87 354L342.34 360L344.81 356L347.29 356L349.76 354L352.23 360L354.71 359L357.18 341L359.65 239L362.12 313L364.6 334L367.07 354L369.54 362L372.02 366L374.49 359L376.96 362L379.44 358L381.91 330L384.38 288L386.85 338L389.33 291L391.8 340L394.27 264L396.75 352L399.22 365L401.69 363L404.17 366L406.64 348L409.11 364L411.58 341L414.06 362L416.53 329L419 310L421.48 324L423.95 332L426.42 325L428.9 342L431.37 356L433.84 357L436.31 354L438.79 365L441.26 355L443.73 357" fill="none" stroke="#eb283c" stroke-width="0.8" stroke-linejoin="round" opacity="0.75"/>
<line x1="268.3" y1="200.2" x2="268.3" y2="366.8" stroke="#0505ff" stroke-width="1.08"/>
<rect x="32.9" y="200.2" width="431.8" height="166.6" fill="none" stroke="#878787" stroke-width="1.25"/>
<line x1="31.1" y1="366.8" x2="33.2" y2="366.8" stroke="#333" stroke-width="0.8"/>
<text x="29.2" y="370.1" font-size="8.5" text-anchor="end" textLength="5.38" lengthAdjust="spacingAndGlyphs">0</text>
<line x1="32.15" y1="362.04" x2="33.2" y2="362.04" stroke="#333" stroke-width="0.8"/>
<line x1="32.15" y1="357.28" x2="33.2" y2="357.28" stroke="#333" stroke-width="0.8"/>
<line x1="32.15" y1="352.52" x2="33.2" y2="352.52" stroke="#333" stroke-width="0.8"/>
<line x1="32.15" y1="347.76" x2="33.2" y2="347.76" stroke="#333" stroke-width="0.8"/>
<line x1="31.1" y1="343" x2="33.2" y2="343" stroke="#333" stroke-width="0.8"/>
<text x="29.2" y="346.3" font-size="8.5" text-anchor="end" textLength="4.64" lengthAdjust="spacingAndGlyphs">5</text>
<line x1="32.15" y1="338.24" x2="33.2" y2="338.24" stroke="#333" stroke-width="0.8"/>
<line x1="32.15" y1="333.48" x2="33.2" y2="333.48" stroke="#333" stroke-width="0.8"/>
<line x1="32.15" y1="328.72" x2="33.2" y2="328.72" stroke="#333" stroke-width="0.8"/>
<line x1="32.15" y1="323.96" x2="33.2" y2="323.96" stroke="#333" stroke-width="0.8"/>
<line x1="31.1" y1="319.2" x2="33.2" y2="319.2" stroke="#333" stroke-width="0.8"/>
<text x="29.2" y="322.5" font-size="8.5" text-anchor="end" textLength="8.52" lengthAdjust="spacingAndGlyphs">10</text>
<line x1="32.15" y1="314.44" x2="33.2" y2="314.44" stroke="#333" stroke-width="0.8"/>
<line x1="32.15" y1="309.68" x2="33.2" y2="309.68" stroke="#333" stroke-width="0.8"/>
<line x1="32.15" y1="304.92" x2="33.2" y2="304.92" stroke="#333" stroke-width="0.8"/>
<line x1="32.15" y1="300.16" x2="33.2" y2="300.16" stroke="#333" stroke-width="0.8"/>
<line x1="31.1" y1="295.4" x2="33.2" y2="295.4" stroke="#333" stroke-width="0.8"/>
<text x="29.2" y="298.7" font-size="8.5" text-anchor="end" textLength="7.78" lengthAdjust="spacingAndGlyphs">15</text>
<line x1="32.15" y1="290.64" x2="33.2" y2="290.64" stroke="#333" stroke-width="0.8"/>
<line x1="32.15" y1="285.88" x2="33.2" y2="285.88" stroke="#333" stroke-width="0.8"/>
<line x1="32.15" y1="281.12" x2="33.2" y2="281.12" stroke="#333" stroke-width="0.8"/>
<line x1="32.15" y1="276.36" x2="33.2" y2="276.36" stroke="#333" stroke-width="0.8"/>
<line x1="31.1" y1="271.6" x2="33.2" y2="271.6" stroke="#333" stroke-width="0.8"/>
<text x="29.2" y="274.9" font-size="8.5" text-anchor="end" textLength="10.22" lengthAdjust="spacingAndGlyphs">20</text>
<line x1="32.15" y1="266.84" x2="33.2" y2="266.84" stroke="#333" stroke-width="0.8"/>
<line x1="32.15" y1="262.08" x2="33.2" y2="262.08" stroke="#333" stroke-width="0.8"/>
<line x1="32.15" y1="257.32" x2="33.2" y2="257.32" stroke="#333" stroke-width="0.8"/>
<line x1="32.15" y1="252.56" x2="33.2" y2="252.56" stroke="#333" stroke-width="0.8"/>
<line x1="31.1" y1="247.8" x2="33.2" y2="247.8" stroke="#333" stroke-width="0.8"/>
<text x="29.2" y="251.1" font-size="8.5" text-anchor="end" textLength="9.48" lengthAdjust="spacingAndGlyphs">25</text>
<line x1="32.15" y1="243.04" x2="33.2" y2="243.04" stroke="#333" stroke-width="0.8"/>
<line x1="32.15" y1="238.28" x2="33.2" y2="238.28" stroke="#333" stroke-width="0.8"/>
<line x1="32.15" y1="233.52" x2="33.2" y2="233.52" stroke="#333" stroke-width="0.8"/>
<line x1="32.15" y1="228.76" x2="33.2" y2="228.76" stroke="#333" stroke-width="0.8"/>
<line x1="31.1" y1="224" x2="33.2" y2="224" stroke="#333" stroke-width="0.8"/>
<text x="29.2" y="227.3" font-size="8.5" text-anchor="end" textLength="10.21" lengthAdjust="spacingAndGlyphs">30</text>
<line x1="32.15" y1="219.24" x2="33.2" y2="219.24" stroke="#333" stroke-width="0.8"/>
<line x1="32.15" y1="214.48" x2="33.2" y2="214.48" stroke="#333" stroke-width="0.8"/>
<line x1="32.15" y1="209.72" x2="33.2" y2="209.72" stroke="#333" stroke-width="0.8"/>
<line x1="32.15" y1="204.96" x2="33.2" y2="204.96" stroke="#333" stroke-width="0.8"/>
<line x1="31.1" y1="200.2" x2="33.2" y2="200.2" stroke="#333" stroke-width="0.8"/>
<text x="29.2" y="203.5" font-size="8.5" text-anchor="end" textLength="9.47" lengthAdjust="spacingAndGlyphs">35</text>
<line x1="464.4" y1="366.8" x2="466.2" y2="366.8" stroke="#333" stroke-width="0.8"/>
<text x="468.1" y="370.1" font-size="8.5" text-anchor="start" textLength="5.38" lengthAdjust="spacingAndGlyphs">0</text>
<line x1="464.2" y1="362.63" x2="465.25" y2="362.63" stroke="#333" stroke-width="0.8"/>
<line x1="464.2" y1="358.47" x2="465.25" y2="358.47" stroke="#333" stroke-width="0.8"/>
<line x1="464.2" y1="354.31" x2="465.25" y2="354.31" stroke="#333" stroke-width="0.8"/>
<line x1="464.2" y1="350.14" x2="465.25" y2="350.14" stroke="#333" stroke-width="0.8"/>
<line x1="464.4" y1="345.98" x2="466.2" y2="345.98" stroke="#333" stroke-width="0.8"/>
<text x="468.1" y="349.28" font-size="8.5" text-anchor="start" textLength="9.48" lengthAdjust="spacingAndGlyphs">25</text>
<line x1="464.2" y1="341.81" x2="465.25" y2="341.81" stroke="#333" stroke-width="0.8"/>
<line x1="464.2" y1="337.64" x2="465.25" y2="337.64" stroke="#333" stroke-width="0.8"/>
<line x1="464.2" y1="333.48" x2="465.25" y2="333.48" stroke="#333" stroke-width="0.8"/>
<line x1="464.2" y1="329.31" x2="465.25" y2="329.31" stroke="#333" stroke-width="0.8"/>
<line x1="464.4" y1="325.15" x2="466.2" y2="325.15" stroke="#333" stroke-width="0.8"/>
<text x="468.1" y="328.45" font-size="8.5" text-anchor="start" textLength="10.22" lengthAdjust="spacingAndGlyphs">50</text>
<line x1="464.2" y1="320.99" x2="465.25" y2="320.99" stroke="#333" stroke-width="0.8"/>
<line x1="464.2" y1="316.82" x2="465.25" y2="316.82" stroke="#333" stroke-width="0.8"/>
<line x1="464.2" y1="312.65" x2="465.25" y2="312.65" stroke="#333" stroke-width="0.8"/>
<line x1="464.2" y1="308.49" x2="465.25" y2="308.49" stroke="#333" stroke-width="0.8"/>
<line x1="464.4" y1="304.32" x2="466.2" y2="304.32" stroke="#333" stroke-width="0.8"/>
<text x="468.1" y="307.62" font-size="8.5" text-anchor="start" textLength="9.54" lengthAdjust="spacingAndGlyphs">75</text>
<line x1="464.2" y1="300.16" x2="465.25" y2="300.16" stroke="#333" stroke-width="0.8"/>
<line x1="464.2" y1="296" x2="465.25" y2="296" stroke="#333" stroke-width="0.8"/>
<line x1="464.2" y1="291.83" x2="465.25" y2="291.83" stroke="#333" stroke-width="0.8"/>
<line x1="464.2" y1="287.67" x2="465.25" y2="287.67" stroke="#333" stroke-width="0.8"/>
<line x1="464.4" y1="283.5" x2="466.2" y2="283.5" stroke="#333" stroke-width="0.8"/>
<text x="468.1" y="286.8" font-size="8.5" text-anchor="start" textLength="14.1" lengthAdjust="spacingAndGlyphs">100</text>
<line x1="464.2" y1="279.33" x2="465.25" y2="279.33" stroke="#333" stroke-width="0.8"/>
<line x1="464.2" y1="275.17" x2="465.25" y2="275.17" stroke="#333" stroke-width="0.8"/>
<line x1="464.2" y1="271" x2="465.25" y2="271" stroke="#333" stroke-width="0.8"/>
<line x1="464.2" y1="266.84" x2="465.25" y2="266.84" stroke="#333" stroke-width="0.8"/>
<line x1="464.4" y1="262.68" x2="466.2" y2="262.68" stroke="#333" stroke-width="0.8"/>
<text x="468.1" y="265.98" font-size="8.5" text-anchor="start" textLength="12.62" lengthAdjust="spacingAndGlyphs">125</text>
<line x1="464.2" y1="258.51" x2="465.25" y2="258.51" stroke="#333" stroke-width="0.8"/>
<line x1="464.2" y1="254.34" x2="465.25" y2="254.34" stroke="#333" stroke-width="0.8"/>
<line x1="464.2" y1="250.18" x2="465.25" y2="250.18" stroke="#333" stroke-width="0.8"/>
<line x1="464.2" y1="246.01" x2="465.25" y2="246.01" stroke="#333" stroke-width="0.8"/>
<line x1="464.4" y1="241.85" x2="466.2" y2="241.85" stroke="#333" stroke-width="0.8"/>
<text x="468.1" y="245.15" font-size="8.5" text-anchor="start" textLength="13.36" lengthAdjust="spacingAndGlyphs">150</text>
<line x1="464.2" y1="237.69" x2="465.25" y2="237.69" stroke="#333" stroke-width="0.8"/>
<line x1="464.2" y1="233.52" x2="465.25" y2="233.52" stroke="#333" stroke-width="0.8"/>
<line x1="464.2" y1="229.35" x2="465.25" y2="229.35" stroke="#333" stroke-width="0.8"/>
<line x1="464.2" y1="225.19" x2="465.25" y2="225.19" stroke="#333" stroke-width="0.8"/>
<line x1="464.4" y1="221.03" x2="466.2" y2="221.03" stroke="#333" stroke-width="0.8"/>
<text x="468.1" y="224.33" font-size="8.5" text-anchor="start" textLength="12.68" lengthAdjust="spacingAndGlyphs">175</text>
<line x1="464.2" y1="216.86" x2="465.25" y2="216.86" stroke="#333" stroke-width="0.8"/>
<line x1="464.2" y1="212.69" x2="465.25" y2="212.69" stroke="#333" stroke-width="0.8"/>
<line x1="464.2" y1="208.53" x2="465.25" y2="208.53" stroke="#333" stroke-width="0.8"/>
<line x1="464.2" y1="204.36" x2="465.25" y2="204.36" stroke="#333" stroke-width="0.8"/>
<line x1="464.4" y1="200.2" x2="466.2" y2="200.2" stroke="#333" stroke-width="0.8"/>
<text x="468.1" y="203.5" font-size="8.5" text-anchor="start" textLength="15.8" lengthAdjust="spacingAndGlyphs">200</text>
<line x1="53.2" y1="366.5" x2="53.2" y2="368.5" stroke="#333" stroke-width="0.8"/>
<text x="53.2" y="377.4" font-size="8.5" text-anchor="middle" textLength="32.72" lengthAdjust="spacingAndGlyphs">10/2007</text>
<line x1="127.25" y1="366.5" x2="127.25" y2="368.5" stroke="#333" stroke-width="0.8"/>
<text x="127.25" y="377.4" font-size="8.5" text-anchor="middle" textLength="33.42" lengthAdjust="spacingAndGlyphs">04/2010</text>
<line x1="201.3" y1="366.5" x2="201.3" y2="368.5" stroke="#333" stroke-width="0.8"/>
<text x="201.3" y="377.4" font-size="8.5" text-anchor="middle" textLength="30.22" lengthAdjust="spacingAndGlyphs">10/2012</text>
<line x1="275.35" y1="366.5" x2="275.35" y2="368.5" stroke="#333" stroke-width="0.8"/>
<text x="275.35" y="377.4" font-size="8.5" text-anchor="middle" textLength="32.68" lengthAdjust="spacingAndGlyphs">04/2015</text>
<line x1="349.4" y1="366.5" x2="349.4" y2="368.5" stroke="#333" stroke-width="0.8"/>
<text x="349.4" y="377.4" font-size="8.5" text-anchor="middle" textLength="30.28" lengthAdjust="spacingAndGlyphs">10/2017</text>
<line x1="423.45" y1="366.5" x2="423.45" y2="368.5" stroke="#333" stroke-width="0.8"/>
<text x="423.45" y="377.4" font-size="8.5" text-anchor="middle" textLength="35.12" lengthAdjust="spacingAndGlyphs">04/2020</text>
<g transform="translate(14.0 283.5) rotate(-90)"><text x="0" y="0" font-size="8.2" text-anchor="middle" textLength="51" lengthAdjust="spacingAndGlyphs">Flow (<tspan font-style="italic">m</tspan><tspan font-size="6.2" dy="-3.1">3</tspan><tspan dy="3.1">/s)</tspan></text></g>
<g transform="translate(492.6 283.5) rotate(-90)"><text x="0" y="0" font-size="8.4" text-anchor="middle" textLength="84.8" lengthAdjust="spacingAndGlyphs">Precipitation (mm)</text></g>
<text x="187.2" y="214.2" font-size="8.6" text-anchor="start" textLength="48" lengthAdjust="spacingAndGlyphs">Calibration</text>
<text x="297.9" y="214.2" font-size="8.6" text-anchor="start" textLength="44.2" lengthAdjust="spacingAndGlyphs">Validation</text>
<text x="55" y="225.25" font-size="8" text-anchor="start" textLength="31.2" lengthAdjust="spacingAndGlyphs"><tspan font-style="italic">r</tspan><tspan font-size="5.9" dy="-3.1">2</tspan><tspan dy="3.1"> = 0.93</tspan></text>
<text x="55" y="236.75" font-size="8" text-anchor="start" textLength="60" lengthAdjust="spacingAndGlyphs">PBIAS = -11.69 %</text>
<text x="55" y="248.65" font-size="8" text-anchor="start" textLength="40.7" lengthAdjust="spacingAndGlyphs">NSE = 0.90</text>
<text x="283.3" y="225.25" font-size="8" text-anchor="start" textLength="31.7" lengthAdjust="spacingAndGlyphs"><tspan font-style="italic">r</tspan><tspan font-size="5.9" dy="-3.1">2</tspan><tspan dy="3.1"> = 0.86</tspan></text>
<text x="283.3" y="236.75" font-size="8" text-anchor="start" textLength="60" lengthAdjust="spacingAndGlyphs">PBIAS = -18.12 %</text>
<text x="283.3" y="248.65" font-size="8" text-anchor="start" textLength="40.3" lengthAdjust="spacingAndGlyphs">NSE = 0.83</text>
<text x="447.6" y="211.2" font-size="8.7" text-anchor="start" textLength="10.8" lengthAdjust="spacingAndGlyphs">(B)</text>
<line x1="246.46" y1="211.2" x2="266.1" y2="211.2" stroke="#000" stroke-width="0.9"/>
<path d="M241.7 211.2L248.5 208.6L247.48 211.2L248.5 213.8Z" fill="#000"/>
<line x1="289.74" y1="211.2" x2="270" y2="211.2" stroke="#000" stroke-width="0.9"/>
<path d="M294.5 211.2L287.7 208.6L288.72 211.2L287.7 213.8Z" fill="#000"/>
<path d="M52.6 559L52.6 478L53.96 478L53.96 468L55.32 468L55.32 455L56.68 455L56.68 457L58.04 457L58.04 444L59.41 444L59.41 475L60.77 475L60.77 486L62.13 486L62.13 499L63.49 499L63.49 475L64.85 475L64.85 496L66.21 496L66.21 471L67.57 471L67.57 457L68.93 457L68.93 456L70.29 456L70.29 463L71.66 463L71.66 472L73.02 472L73.02 478L74.38 478L74.38 444L75.74 444L75.74 495L77.1 495L77.1 481L78.46 481L78.46 493L79.82 493L79.82 475L81.18 475L81.18 499L82.54 499L82.54 479L83.91 479L83.91 468L85.27 468L85.27 466L86.63 466L86.63 457L87.99 457L87.99 467L89.35 467L89.35 453L90.71 453L90.71 470L92.07 470L92.07 471L93.43 471L93.43 465L94.79 465L94.79 477L96.16 477L96.16 485L97.52 485L97.52 488L98.88 488L98.88 455L100.24 455L100.24 473L101.6 473L101.6 470L102.96 470L102.96 464L104.32 464L104.32 463L105.68 463L105.68 448L107.04 448L107.04 435L108.41 435L108.41 445L109.77 445L109.77 467L111.13 467L111.13 490L112.49 490L112.49 495L113.85 495L113.85 491L115.21 491L115.21 476L116.57 476L116.57 457L117.93 457L117.93 464L119.29 464L119.29 463L120.66 463L120.66 467L122.02 467L122.02 452L123.38 452L123.38 453L124.74 453L124.74 459L126.1 459L126.1 472L127.46 472L127.46 473L128.82 473L128.82 483L130.18 483L130.18 495L131.54 495L131.54 470L132.91 470L132.91 460L134.27 460L134.27 459L135.63 459L135.63 441L136.99 441L136.99 451L138.35 451L138.35 449L139.71 449L139.71 454L141.07 454L141.07 456L142.43 456L142.43 461L143.79 461L143.79 471L145.16 471L145.16 491L146.52 491L146.52 501L147.88 501L147.88 473L149.24 473L149.24 449L150.6 449L150.6 448L151.96 448L151.96 464L153.32 464L153.32 446L154.68 446L154.68 450L156.04 450L156.04 436L157.41 436L157.41 446L158.77 446L158.77 478L160.13 478L160.13 478L161.49 478L161.49 481L162.85 481L162.85 484L164.21 484L164.21 493L165.57 493L165.57 454L166.93 454L166.93 468L168.29 468L168.29 456L169.66 456L169.66 470L171.02 470L171.02 453L172.38 453L172.38 445L173.74 445L173.74 452L175.1 452L175.1 472L176.46 472L176.46 479L177.82 479L177.82 494L179.18 494L179.18 475L180.54 475L180.54 468L181.91 468L181.91 473L183.27 473L183.27 464L184.63 464L184.63 463L185.99 463L185.99 470L187.35 470L187.35 449L188.71 449L188.71 475L190.07 475L190.07 454L191.43 454L191.43 482L192.79 482L192.79 475L194.16 475L194.16 491L195.52 491L195.52 461L196.88 461L196.88 493L198.24 493L198.24 472L199.6 472L199.6 461L200.96 461L200.96 467L202.32 467L202.32 464L203.68 464L203.68 445L205.04 445L205.04 434L206.41 434L206.41 439L207.77 439L207.77 475L209.13 475L209.13 465L210.49 465L210.49 494L211.85 494L211.85 492L213.21 492L213.21 502L214.57 502L214.57 477L215.93 477L215.93 464L217.29 464L217.29 463L218.66 463L218.66 462L220.02 462L220.02 453L221.38 453L221.38 431L222.74 431L222.74 451L224.1 451L224.1 475L225.46 475L225.46 479L226.82 479L226.82 490L228.18 490L228.18 475L229.54 475L229.54 490L230.91 490L230.91 471L232.27 471L232.27 462L233.63 462L233.63 460L234.99 460L234.99 461L236.35 461L236.35 453L237.71 453L237.71 442L239.07 442L239.07 446L240.43 446L240.43 465L241.79 465L241.79 474L243.16 474L243.16 481L244.52 481L244.52 499L245.88 499L245.88 495L247.24 495L247.24 468L248.6 468L248.6 473L249.96 473L249.96 465L251.32 465L251.32 472L252.68 472L252.68 442L254.04 442L254.04 470L255.41 470L255.41 479L256.77 479L256.77 479L258.13 479L258.13 484L259.49 484L259.49 494L260.85 494L260.85 485L262.21 485L262.21 479L263.57 479L263.57 469L264.93 469L264.93 469L266.29 469L266.29 465L267.66 465L267.66 467L269.02 467L269.02 453L270.38 453L270.38 466L271.74 466L271.74 438L273.1 438L273.1 483L274.46 483L274.46 472L275.82 472L275.82 490L277.18 490L277.18 491L278.54 491L278.54 503L279.91 503L279.91 485L281.27 485L281.27 465L282.63 465L282.63 455L283.99 455L283.99 457L285.35 457L285.35 439L286.71 439L286.71 455L288.07 455L288.07 471L289.43 471L289.43 477L290.79 477L290.79 490L292.16 490L292.16 494L293.52 494L293.52 483L294.88 483L294.88 477L296.24 477L296.24 468L297.6 468L297.6 463L298.96 463L298.96 467L300.32 467L300.32 458L301.68 458L301.68 452L303.04 452L303.04 442L304.41 442L304.41 443L305.77 443L305.77 473L307.13 473L307.13 468L308.49 468L308.49 481L309.85 481L309.85 494L311.21 494L311.21 479L312.57 479L312.57 472L313.93 472L313.93 464L315.29 464L315.29 455L316.66 455L316.66 471L318.02 471L318.02 475L319.38 475L319.38 461L320.74 461L320.74 449L322.1 449L322.1 470L323.46 470L323.46 477L324.82 477L324.82 482L326.18 482L326.18 489L327.54 489L327.54 479L328.91 479L328.91 470L330.27 470L330.27 464L331.63 464L331.63 465L332.99 465L332.99 472L334.35 472L334.35 470L335.71 470L335.71 457L337.07 457L337.07 449L338.43 449L338.43 467L339.79 467L339.79 465L341.16 465L341.16 484L342.52 484L342.52 500L343.88 500L343.88 485L345.24 485L345.24 465L346.6 465L346.6 453L347.96 453L347.96 450L349.32 450L349.32 456L350.68 456L350.68 453L352.04 453L352.04 467L353.41 467L353.41 433L354.77 433L354.77 473L356.13 473L356.13 461L357.49 461L357.49 491L358.85 491L358.85 494L360.21 494L360.21 485L361.57 485L361.57 453L362.93 453L362.93 468L364.29 468L364.29 452L365.66 452L365.66 464L367.02 464L367.02 446L368.38 446L368.38 450L369.74 450L369.74 482L371.1 482L371.1 496L372.46 496L372.46 488L373.82 488L373.82 478L375.18 478L375.18 473L376.54 473L376.54 463L377.91 463L377.91 450L379.27 450L379.27 472L380.63 472L380.63 446L381.99 446L381.99 444L383.35 444L383.35 431L384.71 431L384.71 487L386.07 487L386.07 489L387.43 489L387.43 500L388.79 500L388.79 483L390.16 483L390.16 480L391.52 480L391.52 462L392.88 462L392.88 473L394.24 473L394.24 454L395.6 454L395.6 473L396.96 473L396.96 454L398.32 454L398.32 464L399.68 464L399.68 452L401.04 452L401.04 475L402.41 475L402.41 476L403.77 476L403.77 494L405.13 494L405.13 494L406.49 494L406.49 493L407.85 493L407.85 462L409.21 462L409.21 450L410.57 450L410.57 465L411.93 465L411.93 451L413.29 451L413.29 460L414.66 460L414.66 453L416.02 453L416.02 462L417.38 462L417.38 467L418.74 467L418.74 473L420.1 473L420.1 506L421.46 506L421.46 476L422.82 476L422.82 492L424.18 492L424.18 473L425.54 473L425.54 451L426.91 451L426.91 458L428.27 458L428.27 453L429.63 453L429.63 448L430.99 448L430.99 452L432.35 452L432.35 456L433.71 456L433.71 462L435.07 462L435.07 472L436.43 472L436.43 480L437.79 480L437.79 483L439.16 483L439.16 494L440.52 494L440.52 461L441.88 461L441.88 479L443.24 479L443.24 485L444.6 485L444.6 559Z" fill="#e5e5f6" stroke="none"/>
<path d="M53.01 542.95L54.57 514.07L55.78 496.62L56.98 514.07L58.42 550.17L59.87 534.52L61.07 550.17L62.27 553.78L63.48 550.17L64.68 542.95L66.25 532.12L68.05 526.1L69.25 507.45L70.22 506.85L71.42 511.66L72.62 529.71L73.83 544.15L75.27 551.37L76.47 554.38L77.92 548.36L79.48 542.35L80.69 541.74L81.89 541.74L83.45 550.17L84.9 536.93L86.1 546.56L87.55 550.17L88.75 538.13L90.31 532.12L91.52 551.37L93.32 550.77L95.13 554.38L96.93 555.58L98.74 553.78L99.94 553.78L101.14 548.97L102.35 553.78L103.91 549.57L105.35 547.76L106.56 542.95L107.76 546.56L108.97 545.35L110.05 547.76L110 548.97L111.81 558.59L113.61 555.58L115.05 553.78L116.26 523.69L117.46 538.13L118.66 546.56L119.87 526.1L120.59 521.29L121.79 540.54L123 532.12L124.44 550.17L126.25 550.17L128.05 546.56L129.25 551.37L130.7 542.95L131.9 540.54L133.47 520.08L134.67 535.73L135.87 542.95L137.08 532.12L138.28 515.87L139.12 540.54L140.08 554.98L141.53 551.37L142.49 556.79L144.3 554.98L145.86 546.56L147.3 542.95L148.51 545.35L149.95 535.73L151.16 552.58L152.36 542.95L153.56 540.54L154.77 548.97L156.33 552.58L157.89 546.56L159.1 540.54L160.3 547.76L161.74 555.58L163.19 552.58L164.75 551.37L165.96 548.97L167.76 550.17L168.97 541.74L170.05 542.95L170 538.13L171.44 540.54L172.65 535.73L173.85 528.51L175.42 544.15L176.98 548.97L178.42 550.17L179.87 538.13L181.07 523.69L182.03 521.29L183.48 538.13L185.04 535.73L186.61 545.35L188.05 544.15L189.49 548.97L191.06 533.32L192.62 546.56L194.31 555.58L195.87 551.37L197.44 548.97L198.88 547.76L200.32 540.54L201.53 518.88L202.49 547.76L203.94 538.13L205.5 524.9L206.7 540.54L208.27 550.17L210.31 556.79L211.88 547.76L213.32 538.13L214.77 508.05L215.97 529.71L217.53 519.48L218.74 547.76L220.3 535.73L221.74 530.91L222.95 533.32L224.15 550.17L225.35 547.76L227.16 541.74L228.72 538.13L230.05 539.34L230 541.74L231.44 538.13L232.65 524.9L234.21 552.58L235.42 538.13L236.62 511.66L238.18 497.82L239.39 532.12L240.83 547.76L242.27 553.78L243.48 520.08L245 479L246.25 514.07L247.81 546.56L249.01 529.71L250.22 545.35L251.06 514.07L251.9 482L253.1 514.07L254.67 529.71L255.9 486L257.08 514.07L258.64 526.1L260.08 528.51L261.53 502.03L262.7 479L264.3 550.17L265.5 486L266.7 542.95L268.27 527.3L269.71 545.35L271.16 546.56L272.72 526.1L273.92 550.17L275.73 550.17L277.17 553.78L278.74 555.58L280.54 550.17L282.35 557.39L283.55 550.17L284.57 536.93L286.02 540.54L287.22 514.07L288.4 408L290.59 514.07L291.79 550.17L293.24 547.76L294.68 553.78L295.88 538.13L296.85 502.03L297.4 474L299.01 514.07L300.22 544.15L301.66 527.3L303.1 516.47L304.31 514.07L305.51 526.1L306.71 554.98L308.28 551.37L310.08 550.17L311.89 548.97L313.45 530.91L314.9 535.73L316.34 530.91L317.55 529.71L319.11 539.34L320.67 538.13L322.12 534.52L323.32 538.13L324.77 551.37L326.33 553.18L327.89 552.58L329.1 535.73L330.3 514.07L331.5 520.08L332.95 514.07L333.91 529.71L335.11 538.13L336.32 536.93L337.76 529.71L338.97 540.54L340.05 530.91L340 535.73L341.44 547.76L343.01 557.39L344.81 555.58L346.62 554.98L348.42 552.58L350.23 538.13L351.79 503.24L353 518.88L354.44 500.83L355.88 547.76L357.45 548.97L358.65 552.58L359.86 538.13L361.06 526.1L362.26 493.61L363.47 493.61L364.67 532.12L365.51 552.58L367.08 520.08L368.5 476L369.84 526.1L371.05 551.37L372.49 538.13L373.94 526.1L375.5 533.32L376.7 526.1L377.91 505.64L379.11 536.93L380.31 540.54L382.12 546.56L383.92 542.95L385.49 546.56L386.93 547.76L388.13 542.95L389.58 542.95L391.14 550.17L392.71 554.98L394.15 551.37L395 547.76L396.44 538.13L397.65 540.54L399.21 545.35L400.78 546.56L402.22 553.78L403.66 550.17L405.23 553.78L406.79 542.95L408.24 546.56L409.68 541.74L411.61 544.75L413.29 546.56L415.22 544.75L416.66 540.54L417.86 538.13L419.07 547.76L420.51 539.34L421.71 544.15L423.28 534.52L424.84 539.34L426.29 542.95L427.49 546.56L428.94 526.1L430.14 529.71L431.34 530.91L432.55 526.1L433.75 524.9L435.31 530.91L436.88 535.73L438.32 538.13L439.52 545.35L440.97 553.78L442.53 551.37L443.74 550.17" fill="none" stroke="#5a5a5a" stroke-width="0.7" stroke-linejoin="round" stroke-dasharray="3.1 1.33" opacity="0.88"/>
<path d="M53.01 544.15L54.57 520.08L55.78 501.43L56.98 517.68L58.42 544.15L59.87 538.13L61.43 546.56L62.64 551.37L63.84 552.58L64.68 540.54L65.64 519.48L66.85 525.5L68.05 524.3L69.25 528.51L70.46 517.68L71.42 515.87L72.62 529.71L73.83 544.15L75.27 551.37L76.47 554.38L77.92 547.76L79.48 541.74L80.69 542.95L81.89 539.34L83.09 552.58L84.54 536.33L85.74 538.13L87.3 552.58L88.75 534.52L90.31 528.51L91.52 546.56L93.32 548.97L95.13 555.58L96.93 556.19L98.74 553.18L99.58 555.58L101.14 547.76L102.35 555.58L103.91 548.97L105.35 548.97L106.56 541.74L107.76 547.76L108.97 548.97L110.05 550.17L110 553.78L111.81 557.99L113.37 554.98L114.81 554.38L116.02 530.91L117.22 533.32L118.18 545.35L119.39 526.1L120.59 512.26L121.79 540.54L123 533.32L124.2 546.56L125.64 547.76L127.45 545.96L129.01 548.97L130.22 552.58L131.42 553.78L132.62 538.13L133.83 520.08L134.67 520.08L135.51 546.56L136.71 538.13L137.92 526.1L138.88 541.74L139.84 544.15L141.05 536.93L142.25 548.97L143.69 554.98L145.14 552.58L146.34 539.34L147.55 552.58L149.11 538.13L150.55 527.91L151.88 548.97L153.08 535.73L154.52 539.34L155.97 546.56L157.53 542.95L158.74 533.32L159.94 542.95L161.14 547.76L162.35 552.58L163.55 550.17L164.75 545.35L165.96 545.96L167.16 542.95L168.36 536.33L169.57 546.56L170 544.15L171.2 545.35L172.41 550.17L173.61 533.32L175.05 542.95L176.62 547.76L178.18 544.15L179.63 540.54L180.83 526.1L182.03 515.87L183.24 532.12L184.68 548.97L186.25 534.52L187.45 531.52L188.65 546.56L190.22 555.58L191.66 517.68L192.86 540.54L194.07 552.58L195.51 542.95L197.08 547.76L198.64 546.56L200.08 538.13L201.53 519.48L202.73 538.13L203.94 535.73L205.5 522.49L206.7 540.54L208.27 550.17L209.71 553.78L211.52 526.1L212.72 547.76L213.92 526.1L215.13 509.25L216.33 535.73L217.53 523.69L218.74 532.12L219.94 522.49L221.14 532.12L222.35 524.9L223.19 518.88L224.15 540.54L225.35 550.17L226.8 542.95L228.36 534.52L230.05 540.54L230 547.76L231.44 536.93L232.65 532.12L234.21 540.54L235.42 544.15L236.62 514.07L238.18 507.45L239.39 538.13L240.83 545.35L242.03 548.97L243.48 526.1L245.04 509.25L246.25 511.66L247.45 535.73L248.65 538.13L249.86 526.1L251.06 503.24L251.9 492.41L253.1 520.08L254.67 522.49L255.87 497.22L257.08 514.07L258.64 507.45L260.08 528.51L261.53 503.24L262.73 492.41L263.94 514.07L264.9 541.74L265.6 480.8L266.7 541.74L268.27 535.73L269.71 536.93L270.91 546.56L272.36 500.23L273.32 532.12L273.92 555.58L275.49 548.97L276.93 554.98L278.13 552.58L279.34 537.53L280.54 552.58L281.99 557.99L283.19 557.39L284.57 514.07L286.02 526.1L287.46 552.58L288.66 496.02L288.8 432L290.59 514.07L291.79 547.76L293 525.5L294.44 554.98L295.64 538.13L296.85 496.02L297.5 483L298.65 514.07L299.86 545.35L301.42 532.12L302.86 514.07L304.07 503.24L305.27 520.08L306.71 546.56L307.92 540.54L308.88 548.97L310.32 542.95L312.25 526.7L313.45 534.52L314.9 528.51L316.34 524.9L317.55 518.88L319.11 538.13L320.31 539.34L321.88 532.72L323.08 536.93L324.52 550.17L325.97 542.95L327.53 536.33L328.74 535.73L329.94 502.03L331.14 518.88L332.71 502.64L333.55 526.1L334.39 549.57L335.6 535.73L337.16 533.32L338.72 530.91L340.05 528.51L340 528.51L341.44 529.71L342.41 540.54L343.61 557.99L345.05 551.37L346.62 535.73L347.82 521.89L349.03 552.58L350.59 528.51L351.79 518.28L353 538.13L354.44 522.49L355.88 545.35L357.45 541.74L359.01 538.13L360.22 506.85L361.42 547.76L362.62 514.07L364.07 524.9L365.51 546.56L367.08 514.07L368.5 488L369.48 514.07L370.69 547.76L371.89 550.17L373.09 532.12L374.06 524.9L375.5 534.52L376.7 532.12L377.91 515.87L379.11 534.52L380.31 535.73L381.52 534.52L383.08 544.15L384.52 542.35L386.33 543.55L387.53 546.56L388.74 540.54L389.94 539.34L391.14 546.56L392.35 552.58L393.91 546.56L395 542.95L396.2 535.73L397.41 536.93L398.61 544.15L400.05 545.35L401.62 543.55L402.82 546.56L404.03 550.17L405.23 552.58L406.79 545.35L408 546.56L409.44 542.35L411.25 544.15L413.05 545.96L414.86 545.35L416.42 542.95L417.62 536.93L419.07 550.17L420.51 538.13L421.71 542.95L423.28 533.92L424.84 538.13L426.05 541.74L427.25 548.97L428.69 530.91L429.9 526.1L431.1 527.91L432.55 524.9L433.75 523.09L435.31 529.71L436.88 534.52L438.08 529.71L439.28 542.95L440.73 551.37L442.17 550.17L443.74 547.76" fill="none" stroke="#eb283c" stroke-width="0.8" stroke-linejoin="round" opacity="0.75"/>
<line x1="283.45" y1="392.4" x2="283.45" y2="559" stroke="#0505ff" stroke-width="1.08"/>
<rect x="32.9" y="392.4" width="431.8" height="166.6" fill="none" stroke="#878787" stroke-width="1.25"/>
<line x1="31.1" y1="559" x2="33.2" y2="559" stroke="#333" stroke-width="0.8"/>
<text x="29.2" y="562.3" font-size="8.5" text-anchor="end" textLength="5.38" lengthAdjust="spacingAndGlyphs">0</text>
<line x1="32.15" y1="554.84" x2="33.2" y2="554.84" stroke="#333" stroke-width="0.8"/>
<line x1="32.15" y1="550.67" x2="33.2" y2="550.67" stroke="#333" stroke-width="0.8"/>
<line x1="32.15" y1="546.5" x2="33.2" y2="546.5" stroke="#333" stroke-width="0.8"/>
<line x1="32.15" y1="542.34" x2="33.2" y2="542.34" stroke="#333" stroke-width="0.8"/>
<line x1="31.1" y1="538.17" x2="33.2" y2="538.17" stroke="#333" stroke-width="0.8"/>
<text x="29.2" y="541.47" font-size="8.5" text-anchor="end" textLength="2.94" lengthAdjust="spacingAndGlyphs">1</text>
<line x1="32.15" y1="534.01" x2="33.2" y2="534.01" stroke="#333" stroke-width="0.8"/>
<line x1="32.15" y1="529.85" x2="33.2" y2="529.85" stroke="#333" stroke-width="0.8"/>
<line x1="32.15" y1="525.68" x2="33.2" y2="525.68" stroke="#333" stroke-width="0.8"/>
<line x1="32.15" y1="521.51" x2="33.2" y2="521.51" stroke="#333" stroke-width="0.8"/>
<line x1="31.1" y1="517.35" x2="33.2" y2="517.35" stroke="#333" stroke-width="0.8"/>
<text x="29.2" y="520.65" font-size="8.5" text-anchor="end" textLength="4.64" lengthAdjust="spacingAndGlyphs">2</text>
<line x1="32.15" y1="513.18" x2="33.2" y2="513.18" stroke="#333" stroke-width="0.8"/>
<line x1="32.15" y1="509.02" x2="33.2" y2="509.02" stroke="#333" stroke-width="0.8"/>
<line x1="32.15" y1="504.86" x2="33.2" y2="504.86" stroke="#333" stroke-width="0.8"/>
<line x1="32.15" y1="500.69" x2="33.2" y2="500.69" stroke="#333" stroke-width="0.8"/>
<line x1="31.1" y1="496.52" x2="33.2" y2="496.52" stroke="#333" stroke-width="0.8"/>
<text x="29.2" y="499.82" font-size="8.5" text-anchor="end" textLength="4.63" lengthAdjust="spacingAndGlyphs">3</text>
<line x1="32.15" y1="492.36" x2="33.2" y2="492.36" stroke="#333" stroke-width="0.8"/>
<line x1="32.15" y1="488.19" x2="33.2" y2="488.19" stroke="#333" stroke-width="0.8"/>
<line x1="32.15" y1="484.03" x2="33.2" y2="484.03" stroke="#333" stroke-width="0.8"/>
<line x1="32.15" y1="479.87" x2="33.2" y2="479.87" stroke="#333" stroke-width="0.8"/>
<line x1="31.1" y1="475.7" x2="33.2" y2="475.7" stroke="#333" stroke-width="0.8"/>
<text x="29.2" y="479" font-size="8.5" text-anchor="end" textLength="5.4" lengthAdjust="spacingAndGlyphs">4</text>
<line x1="32.15" y1="471.53" x2="33.2" y2="471.53" stroke="#333" stroke-width="0.8"/>
<line x1="32.15" y1="467.37" x2="33.2" y2="467.37" stroke="#333" stroke-width="0.8"/>
<line x1="32.15" y1="463.2" x2="33.2" y2="463.2" stroke="#333" stroke-width="0.8"/>
<line x1="32.15" y1="459.04" x2="33.2" y2="459.04" stroke="#333" stroke-width="0.8"/>
<line x1="31.1" y1="454.88" x2="33.2" y2="454.88" stroke="#333" stroke-width="0.8"/>
<text x="29.2" y="458.18" font-size="8.5" text-anchor="end" textLength="4.64" lengthAdjust="spacingAndGlyphs">5</text>
<line x1="32.15" y1="450.71" x2="33.2" y2="450.71" stroke="#333" stroke-width="0.8"/>
<line x1="32.15" y1="446.54" x2="33.2" y2="446.54" stroke="#333" stroke-width="0.8"/>
<line x1="32.15" y1="442.38" x2="33.2" y2="442.38" stroke="#333" stroke-width="0.8"/>
<line x1="32.15" y1="438.21" x2="33.2" y2="438.21" stroke="#333" stroke-width="0.8"/>
<line x1="31.1" y1="434.05" x2="33.2" y2="434.05" stroke="#333" stroke-width="0.8"/>
<text x="29.2" y="437.35" font-size="8.5" text-anchor="end" textLength="5" lengthAdjust="spacingAndGlyphs">6</text>
<line x1="32.15" y1="429.88" x2="33.2" y2="429.88" stroke="#333" stroke-width="0.8"/>
<line x1="32.15" y1="425.72" x2="33.2" y2="425.72" stroke="#333" stroke-width="0.8"/>
<line x1="32.15" y1="421.55" x2="33.2" y2="421.55" stroke="#333" stroke-width="0.8"/>
<line x1="32.15" y1="417.39" x2="33.2" y2="417.39" stroke="#333" stroke-width="0.8"/>
<line x1="31.1" y1="413.22" x2="33.2" y2="413.22" stroke="#333" stroke-width="0.8"/>
<text x="29.2" y="416.52" font-size="8.5" text-anchor="end" textLength="4.7" lengthAdjust="spacingAndGlyphs">7</text>
<line x1="32.15" y1="409.06" x2="33.2" y2="409.06" stroke="#333" stroke-width="0.8"/>
<line x1="32.15" y1="404.89" x2="33.2" y2="404.89" stroke="#333" stroke-width="0.8"/>
<line x1="32.15" y1="400.73" x2="33.2" y2="400.73" stroke="#333" stroke-width="0.8"/>
<line x1="32.15" y1="396.56" x2="33.2" y2="396.56" stroke="#333" stroke-width="0.8"/>
<line x1="31.1" y1="392.4" x2="33.2" y2="392.4" stroke="#333" stroke-width="0.8"/>
<text x="29.2" y="395.7" font-size="8.5" text-anchor="end" textLength="5.2" lengthAdjust="spacingAndGlyphs">8</text>
<line x1="464.4" y1="559" x2="466.2" y2="559" stroke="#333" stroke-width="0.8"/>
<text x="468.1" y="562.3" font-size="8.5" text-anchor="start" textLength="5.38" lengthAdjust="spacingAndGlyphs">0</text>
<line x1="464.2" y1="554.84" x2="465.25" y2="554.84" stroke="#333" stroke-width="0.8"/>
<line x1="464.2" y1="550.67" x2="465.25" y2="550.67" stroke="#333" stroke-width="0.8"/>
<line x1="464.2" y1="546.5" x2="465.25" y2="546.5" stroke="#333" stroke-width="0.8"/>
<line x1="464.2" y1="542.34" x2="465.25" y2="542.34" stroke="#333" stroke-width="0.8"/>
<line x1="464.4" y1="538.17" x2="466.2" y2="538.17" stroke="#333" stroke-width="0.8"/>
<text x="468.1" y="541.47" font-size="8.5" text-anchor="start" textLength="9.48" lengthAdjust="spacingAndGlyphs">25</text>
<line x1="464.2" y1="534.01" x2="465.25" y2="534.01" stroke="#333" stroke-width="0.8"/>
<line x1="464.2" y1="529.85" x2="465.25" y2="529.85" stroke="#333" stroke-width="0.8"/>
<line x1="464.2" y1="525.68" x2="465.25" y2="525.68" stroke="#333" stroke-width="0.8"/>
<line x1="464.2" y1="521.51" x2="465.25" y2="521.51" stroke="#333" stroke-width="0.8"/>
<line x1="464.4" y1="517.35" x2="466.2" y2="517.35" stroke="#333" stroke-width="0.8"/>
<text x="468.1" y="520.65" font-size="8.5" text-anchor="start" textLength="10.22" lengthAdjust="spacingAndGlyphs">50</text>
<line x1="464.2" y1="513.18" x2="465.25" y2="513.18" stroke="#333" stroke-width="0.8"/>
<line x1="464.2" y1="509.02" x2="465.25" y2="509.02" stroke="#333" stroke-width="0.8"/>
<line x1="464.2" y1="504.86" x2="465.25" y2="504.86" stroke="#333" stroke-width="0.8"/>
<line x1="464.2" y1="500.69" x2="465.25" y2="500.69" stroke="#333" stroke-width="0.8"/>
<line x1="464.4" y1="496.52" x2="466.2" y2="496.52" stroke="#333" stroke-width="0.8"/>
<text x="468.1" y="499.82" font-size="8.5" text-anchor="start" textLength="9.54" lengthAdjust="spacingAndGlyphs">75</text>
<line x1="464.2" y1="492.36" x2="465.25" y2="492.36" stroke="#333" stroke-width="0.8"/>
<line x1="464.2" y1="488.19" x2="465.25" y2="488.19" stroke="#333" stroke-width="0.8"/>
<line x1="464.2" y1="484.03" x2="465.25" y2="484.03" stroke="#333" stroke-width="0.8"/>
<line x1="464.2" y1="479.87" x2="465.25" y2="479.87" stroke="#333" stroke-width="0.8"/>
<line x1="464.4" y1="475.7" x2="466.2" y2="475.7" stroke="#333" stroke-width="0.8"/>
<text x="468.1" y="479" font-size="8.5" text-anchor="start" textLength="14.1" lengthAdjust="spacingAndGlyphs">100</text>
<line x1="464.2" y1="471.53" x2="465.25" y2="471.53" stroke="#333" stroke-width="0.8"/>
<line x1="464.2" y1="467.37" x2="465.25" y2="467.37" stroke="#333" stroke-width="0.8"/>
<line x1="464.2" y1="463.2" x2="465.25" y2="463.2" stroke="#333" stroke-width="0.8"/>
<line x1="464.2" y1="459.04" x2="465.25" y2="459.04" stroke="#333" stroke-width="0.8"/>
<line x1="464.4" y1="454.88" x2="466.2" y2="454.88" stroke="#333" stroke-width="0.8"/>
<text x="468.1" y="458.18" font-size="8.5" text-anchor="start" textLength="12.62" lengthAdjust="spacingAndGlyphs">125</text>
<line x1="464.2" y1="450.71" x2="465.25" y2="450.71" stroke="#333" stroke-width="0.8"/>
<line x1="464.2" y1="446.54" x2="465.25" y2="446.54" stroke="#333" stroke-width="0.8"/>
<line x1="464.2" y1="442.38" x2="465.25" y2="442.38" stroke="#333" stroke-width="0.8"/>
<line x1="464.2" y1="438.21" x2="465.25" y2="438.21" stroke="#333" stroke-width="0.8"/>
<line x1="464.4" y1="434.05" x2="466.2" y2="434.05" stroke="#333" stroke-width="0.8"/>
<text x="468.1" y="437.35" font-size="8.5" text-anchor="start" textLength="13.36" lengthAdjust="spacingAndGlyphs">150</text>
<line x1="464.2" y1="429.88" x2="465.25" y2="429.88" stroke="#333" stroke-width="0.8"/>
<line x1="464.2" y1="425.72" x2="465.25" y2="425.72" stroke="#333" stroke-width="0.8"/>
<line x1="464.2" y1="421.55" x2="465.25" y2="421.55" stroke="#333" stroke-width="0.8"/>
<line x1="464.2" y1="417.39" x2="465.25" y2="417.39" stroke="#333" stroke-width="0.8"/>
<line x1="464.4" y1="413.23" x2="466.2" y2="413.23" stroke="#333" stroke-width="0.8"/>
<text x="468.1" y="416.53" font-size="8.5" text-anchor="start" textLength="12.68" lengthAdjust="spacingAndGlyphs">175</text>
<line x1="464.2" y1="409.06" x2="465.25" y2="409.06" stroke="#333" stroke-width="0.8"/>
<line x1="464.2" y1="404.89" x2="465.25" y2="404.89" stroke="#333" stroke-width="0.8"/>
<line x1="464.2" y1="400.73" x2="465.25" y2="400.73" stroke="#333" stroke-width="0.8"/>
<line x1="464.2" y1="396.56" x2="465.25" y2="396.56" stroke="#333" stroke-width="0.8"/>
<line x1="464.4" y1="392.4" x2="466.2" y2="392.4" stroke="#333" stroke-width="0.8"/>
<text x="468.1" y="395.7" font-size="8.5" text-anchor="start" textLength="15.8" lengthAdjust="spacingAndGlyphs">200</text>
<line x1="53.5" y1="558.7" x2="53.5" y2="560.7" stroke="#333" stroke-width="0.8"/>
<text x="53.5" y="569.6" font-size="8.5" text-anchor="middle" textLength="30.26" lengthAdjust="spacingAndGlyphs">01/1997</text>
<line x1="94.63" y1="558.7" x2="94.63" y2="560.7" stroke="#333" stroke-width="0.8"/>
<text x="94.63" y="569.6" font-size="8.5" text-anchor="middle" textLength="32.32" lengthAdjust="spacingAndGlyphs">07/1999</text>
<line x1="135.76" y1="558.7" x2="135.76" y2="560.7" stroke="#333" stroke-width="0.8"/>
<text x="135.76" y="569.6" font-size="8.5" text-anchor="middle" textLength="32.66" lengthAdjust="spacingAndGlyphs">01/2002</text>
<line x1="176.89" y1="558.7" x2="176.89" y2="560.7" stroke="#333" stroke-width="0.8"/>
<text x="176.89" y="569.6" font-size="8.5" text-anchor="middle" textLength="35.18" lengthAdjust="spacingAndGlyphs">07/2004</text>
<line x1="218.02" y1="558.7" x2="218.02" y2="560.7" stroke="#333" stroke-width="0.8"/>
<text x="218.02" y="569.6" font-size="8.5" text-anchor="middle" textLength="32.72" lengthAdjust="spacingAndGlyphs">01/2007</text>
<line x1="259.15" y1="558.7" x2="259.15" y2="560.7" stroke="#333" stroke-width="0.8"/>
<text x="259.15" y="569.6" font-size="8.5" text-anchor="middle" textLength="34.78" lengthAdjust="spacingAndGlyphs">07/2009</text>
<line x1="300.28" y1="558.7" x2="300.28" y2="560.7" stroke="#333" stroke-width="0.8"/>
<text x="300.28" y="569.6" font-size="8.5" text-anchor="middle" textLength="30.22" lengthAdjust="spacingAndGlyphs">01/2012</text>
<line x1="341.41" y1="558.7" x2="341.41" y2="560.7" stroke="#333" stroke-width="0.8"/>
<text x="341.41" y="569.6" font-size="8.5" text-anchor="middle" textLength="32.74" lengthAdjust="spacingAndGlyphs">07/2014</text>
<line x1="382.54" y1="558.7" x2="382.54" y2="560.7" stroke="#333" stroke-width="0.8"/>
<text x="382.54" y="569.6" font-size="8.5" text-anchor="middle" textLength="31.97" lengthAdjust="spacingAndGlyphs">03/2017</text>
<line x1="423.67" y1="558.7" x2="423.67" y2="560.7" stroke="#333" stroke-width="0.8"/>
<text x="423.67" y="569.6" font-size="8.5" text-anchor="middle" textLength="32.64" lengthAdjust="spacingAndGlyphs">09/2019</text>
<g transform="translate(14.0 475.7) rotate(-90)"><text x="0" y="0" font-size="8.2" text-anchor="middle" textLength="51" lengthAdjust="spacingAndGlyphs">Flow (<tspan font-style="italic">m</tspan><tspan font-size="6.2" dy="-3.1">3</tspan><tspan dy="3.1">/s)</tspan></text></g>
<g transform="translate(492.6 475.7) rotate(-90)"><text x="0" y="0" font-size="8.4" text-anchor="middle" textLength="84.8" lengthAdjust="spacingAndGlyphs">Precipitation (mm)</text></g>
<text x="213.2" y="407.3" font-size="8.6" text-anchor="start" textLength="47.3" lengthAdjust="spacingAndGlyphs">Calibration</text>
<text x="308" y="407.3" font-size="8.6" text-anchor="start" textLength="43.9" lengthAdjust="spacingAndGlyphs">Validation</text>
<text x="55" y="420.65" font-size="8" text-anchor="start" textLength="31.2" lengthAdjust="spacingAndGlyphs"><tspan font-style="italic">r</tspan><tspan font-size="5.9" dy="-3.1">2</tspan><tspan dy="3.1"> = 0.75</tspan></text>
<text x="55" y="432.35" font-size="8" text-anchor="start" textLength="57" lengthAdjust="spacingAndGlyphs">PBIAS = 10.19 %</text>
<text x="55" y="443.95" font-size="8" text-anchor="start" textLength="40" lengthAdjust="spacingAndGlyphs">NSE = 0.73</text>
<text x="321.9" y="420.65" font-size="8" text-anchor="start" textLength="31.7" lengthAdjust="spacingAndGlyphs"><tspan font-style="italic">r</tspan><tspan font-size="5.9" dy="-3.1">2</tspan><tspan dy="3.1"> = 0.69</tspan></text>
<text x="321.9" y="432.35" font-size="8" text-anchor="start" textLength="55" lengthAdjust="spacingAndGlyphs">PBIAS = 10.6 %</text>
<text x="321.9" y="443.95" font-size="8" text-anchor="start" textLength="40.8" lengthAdjust="spacingAndGlyphs">NSE = 0.68</text>
<text x="447.6" y="403.7" font-size="8.7" text-anchor="start" textLength="10.8" lengthAdjust="spacingAndGlyphs">(C)</text>
<line x1="266.31" y1="404.2" x2="280.8" y2="404.2" stroke="#000" stroke-width="0.9"/>
<path d="M261.9 404.2L268.2 401.7L267.25 404.2L268.2 406.7Z" fill="#000"/>
<line x1="300.89" y1="404.2" x2="286.1" y2="404.2" stroke="#000" stroke-width="0.9"/>
<path d="M305.3 404.2L299 401.7L299.94 404.2L299 406.7Z" fill="#000"/>
<rect x="74.6" y="577.4" width="16.3" height="5.4" fill="#e5e5f6"/>
<text x="98" y="583.2" font-size="8.2" text-anchor="start" textLength="53.2" lengthAdjust="spacingAndGlyphs">Precipitation</text>
<line x1="167.9" y1="580.4" x2="184.4" y2="580.4" stroke="#5a5a5a" stroke-width="0.8" stroke-dasharray="3.1 1.33"/>
<text x="192" y="583.2" font-size="8.2" text-anchor="start" textLength="91.2" lengthAdjust="spacingAndGlyphs">USGS flow (measured)</text>
<line x1="300" y1="580.3" x2="317" y2="580.3" stroke="#eb283c" stroke-width="0.8" opacity="0.7"/>
<text x="324" y="583.2" font-size="8.2" text-anchor="start" textLength="98" lengthAdjust="spacingAndGlyphs">SWAT+ flow (simulated)</text>
</g>
</svg></body></html>
